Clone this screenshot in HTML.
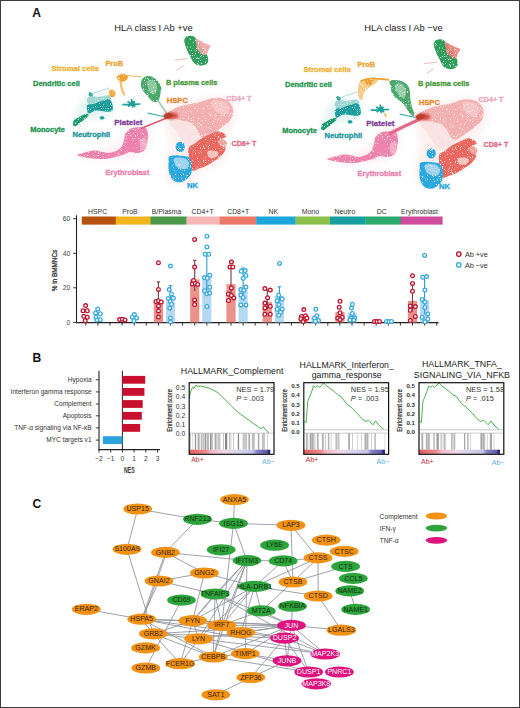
<!DOCTYPE html>
<html><head><meta charset="utf-8"><style>
html,body{margin:0;padding:0;background:#fff;}
svg{display:block;font-family:"Liberation Sans", sans-serif;}
</style></head><body>
<svg width="520" height="708" viewBox="0 0 520 708">
<rect x="0" y="0" width="520" height="708" fill="#fff"/>

<text x="32.3" y="16.9" font-size="12.1" font-weight="bold" fill="#111">A</text>
<text x="32.6" y="361.7" font-size="12.1" font-weight="bold" fill="#111">B</text>
<text x="32.4" y="507.8" font-size="12.1" font-weight="bold" fill="#111">C</text>
<defs><filter id="soft" x="-10%" y="-10%" width="120%" height="120%"><feGaussianBlur stdDeviation="0.6"/></filter>
<filter id="soft2" x="-20%" y="-20%" width="140%" height="140%"><feGaussianBlur stdDeviation="1.2"/></filter>
<filter id="halo" x="-30%" y="-30%" width="160%" height="160%"><feGaussianBlur stdDeviation="3"/></filter>
<filter id="speck" x="0" y="0" width="100%" height="100%" filterUnits="userSpaceOnUse"><feTurbulence type="fractalNoise" baseFrequency="1.4" numOctaves="1" seed="4" result="n"/>
<feColorMatrix in="n" type="matrix" values="0 0 0 0 0  0 0 0 0 0  0 0 0 0 0  0 0 0 -10 7.2" result="m"/>
<feGaussianBlur in="SourceGraphic" stdDeviation="0.6" result="b"/>
<feComposite in="b" in2="m" operator="in"/></filter></defs>
<g transform="translate(0,0)">
<g filter="url(#halo)" opacity="0.13">
<path d="M166.0,112.0 C167.8,108.5 171.2,106.0 176.0,104.0 C180.8,102.0 188.0,101.3 195.0,100.0 C202.0,98.7 211.7,95.8 218.0,96.0 C224.3,96.2 229.8,98.0 233.0,101.0 C236.2,104.0 237.2,109.5 237.0,114.0 C236.8,118.5 234.5,123.7 232.0,128.0 C229.5,132.3 222.7,136.3 222.0,140.0 C221.3,143.7 228.0,146.3 228.0,150.0 C228.0,153.7 226.7,158.3 222.0,162.0 C217.3,165.7 206.0,168.3 200.0,172.0 C194.0,175.7 191.3,182.3 186.0,184.0 C180.7,185.7 171.3,186.0 168.0,182.0 C164.7,178.0 165.7,167.0 166.0,160.0 C166.3,153.0 170.2,145.8 170.0,140.0 C169.8,134.2 165.7,129.7 165.0,125.0 C164.3,120.3 164.2,115.5 166.0,112.0Z" fill="#f08c8c"/>
<path d="M74.0,120.0 C75.0,115.0 79.7,102.3 84.0,98.0 C88.3,93.7 95.3,94.2 100.0,94.0 C104.7,93.8 109.5,94.3 112.0,97.0 C114.5,99.7 116.2,106.5 115.0,110.0 C113.8,113.5 109.5,116.3 105.0,118.0 C100.5,119.7 92.5,118.3 88.0,120.0 C83.5,121.7 80.3,128.0 78.0,128.0 C75.7,128.0 73.0,125.0 74.0,120.0Z" fill="#40b0a8"/>
<path d="M76.0,156.0 C74.3,154.3 92.3,152.7 100.0,150.0 C107.7,147.3 117.3,143.8 122.0,140.0 C126.7,136.2 123.7,129.7 128.0,127.0 C132.3,124.3 144.3,121.8 148.0,124.0 C151.7,126.2 151.3,134.8 150.0,140.0 C148.7,145.2 146.7,151.7 140.0,155.0 C133.3,158.3 120.7,159.8 110.0,160.0 C99.3,160.2 77.7,157.7 76.0,156.0Z" fill="#f090b8"/>
</g>
<g filter="url(#speck)">
<path d="M172.0,118.0 C174.0,117.0 178.7,117.5 182.0,118.0 C185.3,118.5 189.0,119.3 192.0,121.0 C195.0,122.7 197.7,125.2 200.0,128.0 C202.3,130.8 206.3,135.0 206.0,138.0 C205.7,141.0 200.8,144.5 198.0,146.0 C195.2,147.5 191.7,148.0 189.0,147.0 C186.3,146.0 184.2,142.8 182.0,140.0 C179.8,137.2 178.0,132.7 176.0,130.0 C174.0,127.3 170.7,126.0 170.0,124.0 C169.3,122.0 170.0,119.0 172.0,118.0Z" fill="#f9e2e2"/>
<path d="M167.7,114.0 C167.7,112.2 172.8,109.7 175.4,108.3 C178.0,106.9 180.2,106.2 183.1,105.4 C186.0,104.6 189.5,104.2 192.7,103.5 C195.9,102.8 199.4,102.3 202.3,101.5 C205.2,100.7 207.4,99.3 210.0,98.7 C212.6,98.1 215.1,97.6 217.7,97.7 C220.3,97.8 223.2,98.5 225.4,99.6 C227.7,100.7 229.9,102.5 231.2,104.4 C232.5,106.3 233.1,108.8 233.1,111.2 C233.1,113.6 232.5,116.6 231.2,118.8 C229.9,121.0 227.7,122.7 225.4,124.6 C223.2,126.5 219.9,128.8 217.7,130.4 C215.4,132.0 213.8,132.9 211.9,134.2 C210.0,135.5 208.1,137.8 206.2,138.1 C204.3,138.4 202.0,137.8 200.4,136.2 C198.8,134.6 198.1,130.8 196.5,128.5 C194.9,126.2 193.0,124.0 190.8,122.7 C188.6,121.4 185.7,121.5 183.1,120.8 C180.5,120.1 178.0,119.9 175.4,118.8 C172.8,117.7 167.7,115.8 167.7,114.0Z" fill="#f3b0b0"/>
<path d="M212.0,101.0 C213.0,99.2 219.2,100.0 222.0,101.0 C224.8,102.0 228.3,104.8 229.0,107.0 C229.7,109.2 228.2,113.2 226.0,114.0 C223.8,114.8 218.3,114.2 216.0,112.0 C213.7,109.8 211.0,102.8 212.0,101.0Z" fill="#f6c6c6"/>
<path d="M188.8,147.7 C189.8,145.4 192.3,145.4 194.6,143.8 C196.8,142.2 199.7,139.7 202.3,138.1 C204.9,136.5 207.4,135.3 210.0,134.2 C212.6,133.1 215.4,131.5 217.7,131.3 C219.9,131.2 222.1,132.5 223.5,133.3 C224.9,134.1 226.6,135.2 226.3,136.2 C226.0,137.1 222.9,138.1 221.5,139.0 C220.1,139.9 217.4,140.9 217.7,141.9 C218.0,142.9 222.2,143.5 223.5,144.8 C224.8,146.1 225.7,147.8 225.4,149.6 C225.1,151.4 223.4,153.5 221.5,155.4 C219.6,157.3 216.4,159.4 213.8,161.2 C211.2,163.0 208.8,164.7 206.2,166.0 C203.6,167.3 200.8,168.0 198.5,168.8 C196.2,169.6 194.1,171.1 192.7,170.8 C191.2,170.5 190.5,169.2 189.8,166.9 C189.2,164.7 189.0,160.5 188.8,157.3 C188.6,154.1 187.8,149.9 188.8,147.7Z" fill="#ea675f"/>
<path d="M207.5,151.5 C208.2,150.3 211.2,150.3 213.0,150.5 C214.8,150.7 218.0,151.4 218.5,152.5 C219.0,153.6 217.6,156.2 216.0,157.0 C214.4,157.8 210.4,158.4 209.0,157.5 C207.6,156.6 206.8,152.7 207.5,151.5Z" fill="#f6c2be"/>
<path d="M218.5,140.5 C219.1,139.5 222.1,139.1 223.5,139.5 C224.9,139.9 226.8,141.7 227.0,143.0 C227.2,144.3 225.7,147.1 224.5,147.5 C223.3,147.9 221.0,146.7 220.0,145.5 C219.0,144.3 217.9,141.5 218.5,140.5Z" fill="#f2a29c"/>
<path d="M169.6,156.3 C171.3,155.3 176.0,155.2 179.2,155.4 C182.4,155.6 186.7,155.7 188.8,157.3 C190.9,158.9 191.4,162.1 191.7,165.0 C192.0,167.9 191.9,172.0 190.8,174.6 C189.7,177.2 187.2,179.1 185.0,180.4 C182.8,181.7 179.6,182.6 177.3,182.3 C175.1,182.0 172.9,180.4 171.5,178.5 C170.1,176.6 169.2,173.7 168.7,170.8 C168.2,167.9 168.5,163.6 168.7,161.2 C168.8,158.8 167.8,157.3 169.6,156.3Z" fill="#2ba9e0"/>
<ellipse cx="180.2" cy="146.9" rx="4.6" ry="5.2" fill="#2ba9e0"/>
<path d="M174.0,158.5 C175.2,157.0 181.5,157.2 184.0,158.0 C186.5,158.8 188.7,161.2 189.0,163.0 C189.3,164.8 188.0,168.3 186.0,169.0 C184.0,169.7 179.0,168.8 177.0,167.0 C175.0,165.2 172.8,160.0 174.0,158.5Z" fill="#9fd2ee"/>
<path d="M125.8,133.1 C126.9,132.0 129.3,129.3 131.5,128.3 C133.7,127.3 136.8,127.3 139.2,127.3 C141.6,127.3 144.6,127.0 146.0,128.3 C147.4,129.6 147.8,132.4 147.9,135.0 C148.1,137.6 147.6,141.1 146.9,143.7 C146.2,146.3 145.5,148.8 144.0,150.4 C142.5,152.0 140.3,152.7 138.0,153.0 C135.7,153.3 132.3,151.8 130.0,152.0 C127.7,152.2 126.0,153.8 124.0,154.5 C122.0,155.2 121.2,155.4 118.0,156.2 C114.8,156.9 109.4,158.7 104.6,159.0 C99.8,159.3 93.7,158.6 89.2,158.0 C84.7,157.4 79.5,156.1 77.7,155.5 C76.0,154.9 76.8,154.9 78.7,154.2 C80.6,153.5 86.2,152.1 89.2,151.5 C92.2,150.9 93.7,150.3 96.9,150.6 C100.1,150.8 104.7,153.3 108.5,153.0 C112.3,152.7 117.5,150.5 120.0,148.5 C122.5,146.5 123.0,143.1 123.8,140.8 C124.6,138.6 124.5,136.3 124.8,135.0 C125.1,133.7 124.7,134.2 125.8,133.1Z" fill="#ed82ad"/>
<path d="M140.0,140.0 C140.8,138.0 145.0,136.7 146.0,138.0 C147.0,139.3 146.8,146.0 146.0,148.0 C145.2,150.0 142.0,151.3 141.0,150.0 C140.0,148.7 139.2,142.0 140.0,140.0Z" fill="#f3acc8"/>
<path d="M87.0,99.0 C87.5,97.6 90.2,96.3 92.0,96.0 C93.8,95.7 96.0,97.0 98.0,97.0 C100.0,97.0 102.2,96.2 104.0,96.0 C105.8,95.8 107.8,95.0 109.0,95.5 C110.2,96.0 111.8,98.1 111.0,99.0 C110.2,99.9 106.5,100.3 104.0,101.0 C101.5,101.7 98.5,102.4 96.0,103.0 C93.5,103.6 90.5,105.2 89.0,104.5 C87.5,103.8 86.5,100.4 87.0,99.0Z" fill="#9fd6d2"/>
<path d="M87.2,105.1 C88.2,104.0 91.4,104.5 93.0,104.1 C94.6,103.7 95.5,103.2 96.8,102.7 C98.1,102.2 99.4,101.6 100.7,101.2 C102.0,100.8 103.2,100.6 104.5,100.3 C105.8,100.0 107.3,99.1 108.4,99.3 C109.5,99.5 110.6,100.1 111.3,101.2 C112.0,102.3 112.5,104.4 112.7,106.0 C112.9,107.6 113.2,109.8 112.2,110.8 C111.2,111.8 108.6,111.8 106.5,111.8 C104.4,111.8 101.6,111.0 99.7,110.8 C97.8,110.6 96.3,110.5 94.9,110.8 C93.5,111.1 92.2,112.3 91.1,112.8 C90.0,113.3 88.8,114.0 88.2,113.7 C87.6,113.4 87.4,112.2 87.2,110.8 C87.0,109.4 86.2,106.2 87.2,105.1Z" fill="#1f9f9c"/>
<path d="M86.3,113.7 C87.3,113.7 89.0,114.2 88.7,115.2 C88.4,116.2 85.8,118.2 84.3,119.5 C82.8,120.8 80.9,122.2 79.5,123.3 C78.1,124.4 76.7,125.9 75.7,126.2 C74.7,126.5 73.6,126.2 73.3,125.3 C73.0,124.3 72.9,121.8 73.8,120.5 C74.7,119.2 77.2,118.5 78.6,117.6 C80.0,116.7 81.1,115.8 82.4,115.2 C83.7,114.6 85.2,113.7 86.3,113.7Z" fill="#1f9d70"/>
<path d="M88.2,93.0 C88.4,92.3 90.2,92.1 91.0,92.4 C91.8,92.7 93.2,94.3 93.0,95.0 C92.8,95.7 90.8,96.8 90.0,96.5 C89.2,96.2 88.0,93.7 88.2,93.0Z" fill="#2aa590"/>
<path d="M99.7,117.0 C100.0,116.5 102.2,116.0 103.0,116.3 C103.8,116.5 104.8,118.0 104.5,118.5 C104.2,119.0 101.8,119.8 101.0,119.5 C100.2,119.2 99.4,117.5 99.7,117.0Z" fill="#1f9f9c"/>
<path d="M143.6,77.5 C145.2,76.4 148.2,75.8 150.4,76.2 C152.7,76.7 155.3,78.4 157.1,80.2 C158.9,82.0 160.5,84.8 161.1,86.9 C161.7,89.0 160.9,90.8 160.5,93.0 C160.1,95.2 159.7,99.0 158.5,100.4 C157.3,101.9 154.7,102.2 153.1,101.7 C151.5,101.2 150.8,99.7 149.0,97.7 C147.2,95.7 143.6,92.1 142.3,89.6 C141.0,87.1 140.8,84.9 141.0,82.9 C141.2,80.9 142.0,78.6 143.6,77.5Z" fill="#4aa868"/>
<path d="M147.0,82.0 C147.5,80.0 151.3,79.3 153.0,80.0 C154.7,80.7 156.7,83.7 157.0,86.0 C157.3,88.3 156.2,93.0 155.0,94.0 C153.8,95.0 151.3,94.0 150.0,92.0 C148.7,90.0 146.5,84.0 147.0,82.0Z" fill="#8ccaa0"/>
<path d="M116.5,77.0 C116.8,76.0 119.0,74.7 120.5,74.3 C122.0,73.9 124.2,74.0 125.5,74.4 C126.8,74.8 128.1,75.8 128.2,76.8 C128.3,77.8 127.0,79.7 126.0,80.5 C125.0,81.3 123.2,81.8 122.0,81.8 C120.8,81.8 119.4,81.3 118.5,80.5 C117.6,79.7 116.2,78.0 116.5,77.0Z" fill="#f0a236"/>
<path d="M109.2,91.0 C109.7,89.8 111.9,89.2 113.0,89.5 C114.1,89.8 115.4,91.8 115.6,93.0 C115.8,94.2 114.9,96.4 114.0,97.0 C113.1,97.6 110.8,97.5 110.0,96.5 C109.2,95.5 108.7,92.2 109.2,91.0Z" fill="#f2ad48"/>
<path d="M186.0,37.0 C186.9,36.3 188.7,35.9 190.0,35.8 C191.3,35.7 192.8,35.8 194.0,36.5 C195.2,37.2 196.0,38.6 197.0,40.0 C198.0,41.4 198.8,43.3 200.0,45.0 C201.2,46.7 202.8,48.2 204.0,50.0 C205.2,51.8 206.8,54.0 207.5,56.0 C208.2,58.0 208.6,60.5 208.0,62.0 C207.4,63.5 205.7,64.8 204.0,65.3 C202.3,65.8 199.8,65.8 198.0,65.3 C196.2,64.8 194.8,63.9 193.5,62.5 C192.2,61.1 191.6,59.1 190.5,57.0 C189.4,54.9 187.9,52.2 187.0,50.0 C186.1,47.8 185.2,45.7 184.8,44.0 C184.4,42.3 184.1,41.2 184.3,40.0 C184.5,38.8 185.1,37.7 186.0,37.0Z" fill="#2f9f5a"/>
<path d="M195.3,38.2 C196.0,37.8 198.4,39.7 200.4,40.7 C202.4,41.7 205.4,43.2 207.1,44.1 C208.8,45.0 210.2,44.9 210.5,45.8 C210.8,46.6 209.4,47.9 208.8,49.2 C208.2,50.5 207.9,52.4 207.1,53.4 C206.3,54.4 204.9,55.2 203.8,55.1 C202.7,55.0 201.5,53.5 200.4,52.5 C199.3,51.5 197.7,50.8 197.0,49.2 C196.3,47.7 196.5,45.0 196.2,43.2 C195.9,41.4 194.6,38.6 195.3,38.2Z" fill="#f2a4a4" opacity="0.9"/>
</g>
<g filter="url(#soft)">
<path d="M141,128.5 L168.5,117.2" stroke="#dc5a74" stroke-width="1.6" fill="none"/>
<path d="M90,94.5 L109.3,87.8" stroke="#8fcfcc" stroke-width="0.7" fill="none"/>
<g transform="translate(0,0)"><path d="M122.3,104.6 L140.5,104 M131.5,99 L132.8,107.6 M127.5,101.5 L135.5,106.5 M128,106.5 L135,101.5" stroke="#1b9e9b" stroke-width="1.6" fill="none"/><ellipse cx="132.5" cy="103.6" rx="2.2" ry="2.8" fill="#1b9e9b"/></g>
<path d="M147.7,113.2 L163.8,116.5" stroke="#3aaeb0" stroke-width="1.2" fill="none"/>
<path d="M157.5,100 L167,114" stroke="#9ccfb0" stroke-width="1.6" fill="none"/>
<path d="M127.5,75.5 L141.5,77" stroke="#f2b35a" stroke-width="1.2" fill="none"/>
<path d="M120.5,81 Q121,89 124.6,95.4" stroke="#f4bd6a" stroke-width="2.2" fill="none"/>
<path d="M175,60.1 L187.7,58.5 M176.7,70.3 L184.3,65.2" stroke="#e89a9a" stroke-width="0.7" fill="none"/>
</g>
<g filter="url(#soft2)"><ellipse cx="171" cy="115.8" rx="7.5" ry="3.6" fill="#d4504a"/></g>
<g filter="url(#soft)"><path d="M163.5,115.5 L168.5,112.5 L174,115 L170,118.5 L165,118.8 Z" fill="#b8402a"/></g>
</g>
<g transform="translate(252,1)">
<g filter="url(#halo)" opacity="0.13">
<path d="M164.5,112.5 C166.3,109.0 169.7,106.5 174.5,104.5 C179.3,102.5 186.5,101.8 193.5,100.5 C200.5,99.2 210.2,96.3 216.5,96.5 C222.8,96.7 228.3,98.5 231.5,101.5 C234.7,104.5 235.7,110.0 235.5,114.5 C235.3,119.0 233.0,124.2 230.5,128.5 C228.0,132.8 221.2,136.8 220.5,140.5 C219.8,144.2 226.5,146.8 226.5,150.5 C226.5,154.2 225.2,158.8 220.5,162.5 C215.8,166.2 204.5,168.8 198.5,172.5 C192.5,176.2 189.8,182.8 184.5,184.5 C179.2,186.2 169.8,186.5 166.5,182.5 C163.2,178.5 164.2,167.5 164.5,160.5 C164.8,153.5 168.7,146.3 168.5,140.5 C168.3,134.7 164.2,130.2 163.5,125.5 C162.8,120.8 162.7,116.0 164.5,112.5Z" fill="#f08c8c"/>
<path d="M70.0,123.0 C71.0,118.0 75.7,105.3 80.0,101.0 C84.3,96.7 91.3,97.2 96.0,97.0 C100.7,96.8 105.5,97.3 108.0,100.0 C110.5,102.7 112.2,109.5 111.0,113.0 C109.8,116.5 105.5,119.3 101.0,121.0 C96.5,122.7 88.5,121.3 84.0,123.0 C79.5,124.7 76.3,131.0 74.0,131.0 C71.7,131.0 69.0,128.0 70.0,123.0Z" fill="#40b0a8"/>
<path d="M74.0,159.0 C72.3,157.3 90.3,155.7 98.0,153.0 C105.7,150.3 115.3,146.8 120.0,143.0 C124.7,139.2 121.7,132.7 126.0,130.0 C130.3,127.3 142.3,124.8 146.0,127.0 C149.7,129.2 149.3,137.8 148.0,143.0 C146.7,148.2 144.7,154.7 138.0,158.0 C131.3,161.3 118.7,162.8 108.0,163.0 C97.3,163.2 75.7,160.7 74.0,159.0Z" fill="#f090b8"/>
</g>
<g filter="url(#speck)">
<path d="M170.5,118.5 C172.5,117.5 177.2,118.0 180.5,118.5 C183.8,119.0 187.5,119.8 190.5,121.5 C193.5,123.2 196.2,125.7 198.5,128.5 C200.8,131.3 204.8,135.5 204.5,138.5 C204.2,141.5 199.3,145.0 196.5,146.5 C193.7,148.0 190.2,148.5 187.5,147.5 C184.8,146.5 182.7,143.3 180.5,140.5 C178.3,137.7 176.5,133.2 174.5,130.5 C172.5,127.8 169.2,126.5 168.5,124.5 C167.8,122.5 168.5,119.5 170.5,118.5Z" fill="#f9e2e2"/>
<path d="M166.2,114.5 C166.2,112.8 171.3,110.2 173.9,108.8 C176.5,107.4 178.7,106.7 181.6,105.9 C184.5,105.1 188.0,104.7 191.2,104.0 C194.4,103.3 197.9,102.8 200.8,102.0 C203.7,101.2 205.9,99.8 208.5,99.2 C211.1,98.6 213.6,98.1 216.2,98.2 C218.8,98.3 221.7,99.0 223.9,100.1 C226.2,101.2 228.4,103.0 229.7,104.9 C231.0,106.8 231.6,109.3 231.6,111.7 C231.6,114.1 231.0,117.1 229.7,119.3 C228.4,121.5 226.2,123.2 223.9,125.1 C221.7,127.0 218.4,129.3 216.2,130.9 C213.9,132.5 212.3,133.4 210.4,134.7 C208.5,136.0 206.6,138.3 204.7,138.6 C202.8,138.9 200.5,138.3 198.9,136.7 C197.3,135.1 196.6,131.2 195.0,129.0 C193.4,126.8 191.5,124.5 189.3,123.2 C187.1,121.9 184.2,122.0 181.6,121.3 C179.0,120.6 176.5,120.4 173.9,119.3 C171.3,118.2 166.2,116.2 166.2,114.5Z" fill="#f3b0b0"/>
<path d="M210.5,101.5 C211.5,99.7 217.7,100.5 220.5,101.5 C223.3,102.5 226.8,105.3 227.5,107.5 C228.2,109.7 226.7,113.7 224.5,114.5 C222.3,115.3 216.8,114.7 214.5,112.5 C212.2,110.3 209.5,103.3 210.5,101.5Z" fill="#f6c6c6"/>
<path d="M187.3,153.7 C188.3,151.4 190.8,151.4 193.1,149.8 C195.3,148.2 198.2,145.7 200.8,144.1 C203.4,142.5 205.9,141.3 208.5,140.2 C211.1,139.1 213.9,137.5 216.2,137.3 C218.4,137.2 220.6,138.5 222.0,139.3 C223.4,140.1 225.1,141.2 224.8,142.2 C224.5,143.1 221.4,144.1 220.0,145.0 C218.6,145.9 215.9,146.9 216.2,147.9 C216.5,148.9 220.7,149.5 222.0,150.8 C223.3,152.1 224.2,153.8 223.9,155.6 C223.6,157.4 221.9,159.5 220.0,161.4 C218.1,163.3 214.9,165.4 212.3,167.2 C209.8,169.0 207.2,170.7 204.7,172.0 C202.1,173.3 199.2,174.0 197.0,174.8 C194.8,175.6 192.6,177.1 191.2,176.8 C189.8,176.5 189.0,175.2 188.3,172.9 C187.7,170.7 187.5,166.5 187.3,163.3 C187.1,160.1 186.3,155.9 187.3,153.7Z" fill="#ea675f"/>
<path d="M206.0,157.5 C206.7,156.3 209.7,156.3 211.5,156.5 C213.3,156.7 216.5,157.4 217.0,158.5 C217.5,159.6 216.1,162.2 214.5,163.0 C212.9,163.8 208.9,164.4 207.5,163.5 C206.1,162.6 205.3,158.7 206.0,157.5Z" fill="#f6c2be"/>
<path d="M217.0,146.5 C217.6,145.5 220.6,145.1 222.0,145.5 C223.4,145.9 225.3,147.7 225.5,149.0 C225.7,150.3 224.2,153.1 223.0,153.5 C221.8,153.9 219.5,152.7 218.5,151.5 C217.5,150.3 216.4,147.5 217.0,146.5Z" fill="#f2a29c"/>
<path d="M168.6,161.8 C170.3,160.8 175.0,160.7 178.2,160.9 C181.4,161.1 185.7,161.2 187.8,162.8 C189.9,164.4 190.4,167.6 190.7,170.5 C191.0,173.4 190.9,177.5 189.8,180.1 C188.7,182.7 186.2,184.6 184.0,185.9 C181.8,187.2 178.6,188.1 176.3,187.8 C174.1,187.5 171.9,185.9 170.5,184.0 C169.1,182.1 168.2,179.2 167.7,176.3 C167.2,173.4 167.5,169.1 167.7,166.7 C167.8,164.3 166.8,162.8 168.6,161.8Z" fill="#2ba9e0"/>
<ellipse cx="179.2" cy="152.4" rx="4.6" ry="5.2" fill="#2ba9e0"/>
<path d="M173.0,164.0 C174.2,162.5 180.5,162.8 183.0,163.5 C185.5,164.2 187.7,166.7 188.0,168.5 C188.3,170.3 187.0,173.8 185.0,174.5 C183.0,175.2 178.0,174.2 176.0,172.5 C174.0,170.8 171.8,165.5 173.0,164.0Z" fill="#9fd2ee"/>
<path d="M123.8,136.1 C124.9,135.0 127.3,132.3 129.5,131.3 C131.7,130.3 134.8,130.3 137.2,130.3 C139.6,130.3 142.6,130.0 144.0,131.3 C145.4,132.6 145.8,135.4 145.9,138.0 C146.1,140.6 145.6,144.1 144.9,146.7 C144.2,149.3 143.5,151.8 142.0,153.4 C140.5,155.0 138.3,155.7 136.0,156.0 C133.7,156.3 130.3,154.8 128.0,155.0 C125.7,155.2 124.0,156.8 122.0,157.5 C120.0,158.2 119.2,158.4 116.0,159.2 C112.8,159.9 107.4,161.7 102.6,162.0 C97.8,162.3 91.7,161.6 87.2,161.0 C82.7,160.4 77.5,159.1 75.7,158.5 C74.0,157.9 74.8,157.9 76.7,157.2 C78.6,156.5 84.2,155.1 87.2,154.5 C90.2,153.9 91.7,153.3 94.9,153.6 C98.1,153.8 102.7,156.3 106.5,156.0 C110.3,155.7 115.5,153.5 118.0,151.5 C120.5,149.5 121.0,146.1 121.8,143.8 C122.6,141.6 122.5,139.3 122.8,138.0 C123.1,136.7 122.7,137.2 123.8,136.1Z" fill="#ed82ad"/>
<path d="M138.0,143.0 C138.8,141.0 143.0,139.7 144.0,141.0 C145.0,142.3 144.8,149.0 144.0,151.0 C143.2,153.0 140.0,154.3 139.0,153.0 C138.0,151.7 137.2,145.0 138.0,143.0Z" fill="#f3acc8"/>
<path d="M83.0,102.0 C83.5,100.6 86.2,99.3 88.0,99.0 C89.8,98.7 92.0,100.0 94.0,100.0 C96.0,100.0 98.2,99.2 100.0,99.0 C101.8,98.8 103.8,98.0 105.0,98.5 C106.2,99.0 107.8,101.1 107.0,102.0 C106.2,102.9 102.5,103.3 100.0,104.0 C97.5,104.7 94.5,105.4 92.0,106.0 C89.5,106.6 86.5,108.2 85.0,107.5 C83.5,106.8 82.5,103.4 83.0,102.0Z" fill="#9fd6d2"/>
<path d="M83.2,108.1 C84.2,107.0 87.4,107.5 89.0,107.1 C90.6,106.7 91.5,106.2 92.8,105.7 C94.1,105.2 95.4,104.6 96.7,104.2 C98.0,103.8 99.2,103.6 100.5,103.3 C101.8,103.0 103.3,102.1 104.4,102.3 C105.5,102.5 106.6,103.1 107.3,104.2 C108.0,105.3 108.5,107.4 108.7,109.0 C108.9,110.6 109.2,112.8 108.2,113.8 C107.2,114.8 104.6,114.8 102.5,114.8 C100.4,114.8 97.6,114.0 95.7,113.8 C93.8,113.6 92.3,113.5 90.9,113.8 C89.5,114.1 88.2,115.3 87.1,115.8 C86.0,116.3 84.8,117.0 84.2,116.7 C83.6,116.4 83.4,115.2 83.2,113.8 C83.0,112.4 82.2,109.2 83.2,108.1Z" fill="#1f9f9c"/>
<path d="M82.3,116.7 C83.3,116.7 85.0,117.2 84.7,118.2 C84.4,119.2 81.8,121.2 80.3,122.5 C78.8,123.8 76.9,125.2 75.5,126.3 C74.1,127.4 72.7,128.9 71.7,129.2 C70.7,129.5 69.6,129.2 69.3,128.3 C69.0,127.4 68.9,124.8 69.8,123.5 C70.7,122.2 73.2,121.5 74.6,120.6 C76.0,119.7 77.1,118.8 78.4,118.2 C79.7,117.6 81.2,116.7 82.3,116.7Z" fill="#1f9d70"/>
<path d="M84.2,96.0 C84.4,95.3 86.2,95.1 87.0,95.4 C87.8,95.7 89.2,97.3 89.0,98.0 C88.8,98.7 86.8,99.8 86.0,99.5 C85.2,99.2 84.0,96.7 84.2,96.0Z" fill="#2aa590"/>
<path d="M95.7,120.0 C96.0,119.5 98.2,119.0 99.0,119.3 C99.8,119.5 100.8,121.0 100.5,121.5 C100.2,122.0 97.8,122.8 97.0,122.5 C96.2,122.2 95.4,120.5 95.7,120.0Z" fill="#1f9f9c"/>
<path d="M138.0,79.5 C139.4,78.5 144.7,79.0 147.4,79.5 C150.1,80.0 152.4,81.3 154.1,82.8 C155.8,84.2 156.8,86.0 157.5,88.2 C158.2,90.5 157.9,93.6 158.2,96.3 C158.5,99.0 158.8,101.7 159.5,104.4 C160.2,107.1 162.0,110.7 162.2,112.5 C162.4,114.3 161.8,115.3 160.9,115.1 C160.0,114.9 158.4,113.1 156.8,111.1 C155.2,109.1 153.5,105.2 151.5,103.0 C149.5,100.8 146.6,99.4 144.7,97.6 C142.8,95.8 141.0,94.3 140.0,92.3 C139.0,90.3 139.0,87.6 138.7,85.5 C138.4,83.4 136.6,80.5 138.0,79.5Z" fill="#4aa86a"/>
<path d="M143.0,84.0 C143.7,82.3 148.2,82.0 150.0,83.0 C151.8,84.0 153.7,87.7 154.0,90.0 C154.3,92.3 153.3,96.5 152.0,97.0 C150.7,97.5 147.5,95.2 146.0,93.0 C144.5,90.8 142.3,85.7 143.0,84.0Z" fill="#94cea8"/>
<path d="M108.4,80.2 C110.1,78.5 113.1,78.0 116.0,77.5 C118.9,77.0 124.7,76.8 126.0,77.5 C127.3,78.2 125.3,80.6 124.0,82.0 C122.7,83.4 120.0,84.3 118.0,86.0 C116.0,87.7 113.3,89.8 112.0,92.0 C110.7,94.2 110.9,98.3 110.0,99.0 C109.1,99.7 107.2,97.8 106.5,96.0 C105.8,94.2 105.7,90.6 106.0,88.0 C106.3,85.4 106.7,82.0 108.4,80.2Z" fill="#f6cc8a"/>
<path d="M113.0,79.0 C114.0,78.2 120.0,78.2 121.0,79.0 C122.0,79.8 120.0,83.2 119.0,84.0 C118.0,84.8 116.0,84.8 115.0,84.0 C114.0,83.2 112.0,79.8 113.0,79.0Z" fill="#f0a236"/>
<path d="M183.5,39.5 C184.4,38.8 186.2,38.4 187.5,38.3 C188.8,38.2 190.3,38.3 191.5,39.0 C192.7,39.7 193.5,41.1 194.5,42.5 C195.5,43.9 196.3,45.8 197.5,47.5 C198.7,49.2 200.2,50.7 201.5,52.5 C202.8,54.3 204.3,56.5 205.0,58.5 C205.7,60.5 206.1,63.0 205.5,64.5 C204.9,66.0 203.2,67.2 201.5,67.8 C199.8,68.3 197.2,68.3 195.5,67.8 C193.8,67.3 192.2,66.4 191.0,65.0 C189.8,63.6 189.1,61.6 188.0,59.5 C186.9,57.4 185.4,54.7 184.5,52.5 C183.6,50.3 182.8,48.2 182.3,46.5 C181.9,44.8 181.6,43.7 181.8,42.5 C182.0,41.3 182.6,40.2 183.5,39.5Z" fill="#2f9f5a"/>
<path d="M192.8,40.7 C193.5,40.3 195.9,42.2 197.9,43.2 C199.9,44.2 202.9,45.8 204.6,46.6 C206.3,47.5 207.7,47.4 208.0,48.3 C208.3,49.1 206.9,50.4 206.3,51.7 C205.7,53.0 205.4,54.9 204.6,55.9 C203.8,56.9 202.4,57.8 201.3,57.6 C200.2,57.5 199.0,56.0 197.9,55.0 C196.8,54.0 195.2,53.2 194.5,51.7 C193.8,50.2 194.0,47.5 193.7,45.7 C193.4,43.9 192.1,41.1 192.8,40.7Z" fill="#ee7a74" opacity="0.9"/>
</g>
<g filter="url(#soft)">
<path d="M137,133 Q150,126 168.5,118" stroke="#e46a8a" stroke-width="3.2" fill="none"/>
<path d="M86,97.5 L105.3,90.8" stroke="#8fcfcc" stroke-width="0.7" fill="none"/>
<g transform="translate(-3.4,4.5)"><path d="M122.3,104.6 L140.5,104 M131.5,99 L132.8,107.6 M127.5,101.5 L135.5,106.5 M128,106.5 L135,101.5" stroke="#1b9e9b" stroke-width="1.6" fill="none"/><ellipse cx="132.5" cy="103.6" rx="2.2" ry="2.8" fill="#1b9e9b"/></g>
<path d="M132.4,112 L134,116" stroke="#f0b040" stroke-width="1.3" fill="none"/>
<path d="M147.7,113.2 L163.8,116.5" stroke="#3aaeb0" stroke-width="1.2" fill="none"/>
<path d="M108.4,80.2 Q116,76.5 124,77.5 L137,78.8" stroke="#f0a236" stroke-width="1.8" fill="none"/>
<path d="M172.5,62.6 L185.2,61.0 M174.2,72.8 L181.8,67.7" stroke="#e89a9a" stroke-width="0.7" fill="none"/>
</g>
<g filter="url(#soft2)"><ellipse cx="171" cy="115.8" rx="7.5" ry="3.6" fill="#d4504a"/></g>
<g filter="url(#soft)"><path d="M163.5,115.5 L168.5,112.5 L174,115 L170,118.5 L165,118.8 Z" fill="#b8402a"/></g>
</g>
<g transform="translate(0,0)">
<text x="51.5" y="71.3" font-size="7.6" font-weight="bold" fill="#f0b230" stroke="#f0b230" stroke-width="0.3" textLength="47.5" lengthAdjust="spacingAndGlyphs">Stromal cells</text>
<text x="105.4" y="65.6" font-size="7.6" font-weight="bold" fill="#eca02a" stroke="#eca02a" stroke-width="0.3" textLength="17.6" lengthAdjust="spacingAndGlyphs">ProB</text>
<text x="33" y="86.2" font-size="7.6" font-weight="bold" fill="#24944a" stroke="#24944a" stroke-width="0.3" textLength="46.8" lengthAdjust="spacingAndGlyphs">Dendritic cell</text>
<text x="165.9" y="84.8" font-size="7.6" font-weight="bold" fill="#4c9a3c" stroke="#4c9a3c" stroke-width="0.3" textLength="51.6" lengthAdjust="spacingAndGlyphs">B plasma cells</text>
<text x="166.8" y="103.4" font-size="7.6" font-weight="bold" fill="#e8862a" stroke="#e8862a" stroke-width="0.3" textLength="21.1" lengthAdjust="spacingAndGlyphs">HSPC</text>
<text x="226.6" y="101.3" font-size="7.6" font-weight="bold" fill="#f0a4bc" stroke="#f0a4bc" stroke-width="0.3" textLength="24.8" lengthAdjust="spacingAndGlyphs">CD4+ T</text>
<text x="30.2" y="131.6" font-size="7.6" font-weight="bold" fill="#18914f" stroke="#18914f" stroke-width="0.3" textLength="34.8" lengthAdjust="spacingAndGlyphs">Monocyte</text>
<text x="72.5" y="136.8" font-size="7.6" font-weight="bold" fill="#18959a" stroke="#18959a" stroke-width="0.3" textLength="37.7" lengthAdjust="spacingAndGlyphs">Neutrophil</text>
<text x="114.2" y="124.8" font-size="7.6" font-weight="bold" fill="#7c3c98" stroke="#7c3c98" stroke-width="0.3" textLength="28.3" lengthAdjust="spacingAndGlyphs">Platelet</text>
<text x="231.5" y="146.2" font-size="7.6" font-weight="bold" fill="#e06a84" stroke="#e06a84" stroke-width="0.3" textLength="24.8" lengthAdjust="spacingAndGlyphs">CD8+ T</text>
<text x="105.6" y="175.2" font-size="7.6" font-weight="bold" fill="#ea7eac" stroke="#ea7eac" stroke-width="0.3" textLength="43.6" lengthAdjust="spacingAndGlyphs">Erythroblast</text>
<text x="187.1" y="187.8" font-size="7.6" font-weight="bold" fill="#1ea2dc" stroke="#1ea2dc" stroke-width="0.3" textLength="11" lengthAdjust="spacingAndGlyphs">NK</text>
</g>
<g transform="translate(252,1.2)">
<text x="51.5" y="71.3" font-size="7.6" font-weight="bold" fill="#f0b230" stroke="#f0b230" stroke-width="0.3" textLength="47.5" lengthAdjust="spacingAndGlyphs">Stromal cells</text>
<text x="105.4" y="65.6" font-size="7.6" font-weight="bold" fill="#eca02a" stroke="#eca02a" stroke-width="0.3" textLength="17.6" lengthAdjust="spacingAndGlyphs">ProB</text>
<text x="33" y="86.2" font-size="7.6" font-weight="bold" fill="#24944a" stroke="#24944a" stroke-width="0.3" textLength="46.8" lengthAdjust="spacingAndGlyphs">Dendritic cell</text>
<text x="165.9" y="84.8" font-size="7.6" font-weight="bold" fill="#4c9a3c" stroke="#4c9a3c" stroke-width="0.3" textLength="51.6" lengthAdjust="spacingAndGlyphs">B plasma cells</text>
<text x="166.8" y="103.4" font-size="7.6" font-weight="bold" fill="#e8862a" stroke="#e8862a" stroke-width="0.3" textLength="21.1" lengthAdjust="spacingAndGlyphs">HSPC</text>
<text x="226.6" y="101.3" font-size="7.6" font-weight="bold" fill="#f0a4bc" stroke="#f0a4bc" stroke-width="0.3" textLength="24.8" lengthAdjust="spacingAndGlyphs">CD4+ T</text>
<text x="30.2" y="131.6" font-size="7.6" font-weight="bold" fill="#18914f" stroke="#18914f" stroke-width="0.3" textLength="34.8" lengthAdjust="spacingAndGlyphs">Monocyte</text>
<text x="72.5" y="136.8" font-size="7.6" font-weight="bold" fill="#18959a" stroke="#18959a" stroke-width="0.3" textLength="37.7" lengthAdjust="spacingAndGlyphs">Neutrophil</text>
<text x="114.2" y="124.8" font-size="7.6" font-weight="bold" fill="#7c3c98" stroke="#7c3c98" stroke-width="0.3" textLength="28.3" lengthAdjust="spacingAndGlyphs">Platelet</text>
<text x="231.5" y="146.2" font-size="7.6" font-weight="bold" fill="#e06a84" stroke="#e06a84" stroke-width="0.3" textLength="24.8" lengthAdjust="spacingAndGlyphs">CD8+ T</text>
<text x="105.6" y="175.2" font-size="7.6" font-weight="bold" fill="#ea7eac" stroke="#ea7eac" stroke-width="0.3" textLength="43.6" lengthAdjust="spacingAndGlyphs">Erythroblast</text>
<text x="187.1" y="187.8" font-size="7.6" font-weight="bold" fill="#1ea2dc" stroke="#1ea2dc" stroke-width="0.3" textLength="11" lengthAdjust="spacingAndGlyphs">NK</text>
</g>
<text x="153.4" y="31.4" font-size="9.4" fill="#222" text-anchor="middle">HLA class I Ab +ve</text>
<text x="403.4" y="31.1" font-size="9.4" fill="#222" text-anchor="middle">HLA class I Ab &#8722;ve</text>
<rect x="81.8" y="216.5" width="34.3" height="8.1" fill="#b5520f"/>
<text x="97.6" y="214.2" font-size="6.9" fill="#333" text-anchor="middle">HSPC</text>
<rect x="115.8" y="216.5" width="34.9" height="8.1" fill="#f4b41c"/>
<text x="129.9" y="214.2" font-size="6.9" fill="#333" text-anchor="middle">ProB</text>
<rect x="150.4" y="216.5" width="36.4" height="8.1" fill="#4b9a4a"/>
<text x="166.5" y="214.2" font-size="6.9" fill="#333" text-anchor="middle">B/Plasma</text>
<rect x="186.5" y="216.5" width="33.5" height="8.1" fill="#f7b6b8"/>
<text x="202.6" y="214.2" font-size="6.9" fill="#333" text-anchor="middle">CD4+T</text>
<rect x="219.7" y="216.5" width="36.8" height="8.1" fill="#ec7868"/>
<text x="238.2" y="214.2" font-size="6.9" fill="#333" text-anchor="middle">CD8+T</text>
<rect x="256.2" y="216.5" width="39.6" height="8.1" fill="#1da6da"/>
<text x="273.4" y="214.2" font-size="6.9" fill="#333" text-anchor="middle">NK</text>
<rect x="295.5" y="216.5" width="34.8" height="8.1" fill="#8bc04d"/>
<text x="310.4" y="214.2" font-size="6.9" fill="#333" text-anchor="middle">Mono</text>
<rect x="330" y="216.5" width="35.7" height="8.1" fill="#17a09f"/>
<text x="344.9" y="214.2" font-size="6.9" fill="#333" text-anchor="middle">Neutro</text>
<rect x="365.4" y="216.5" width="35.7" height="8.1" fill="#2aa86e"/>
<text x="381.8" y="214.2" font-size="6.9" fill="#333" text-anchor="middle">DC</text>
<rect x="400.8" y="216.5" width="41.8" height="8.1" fill="#cf4b9b"/>
<text x="419.5" y="214.2" font-size="6.9" fill="#333" text-anchor="middle">Erythroblast</text>
<line x1="76.5" y1="215.3" x2="76.5" y2="322.9" stroke="#222" stroke-width="1.1"/>
<line x1="76" y1="322.6" x2="438.6" y2="322.6" stroke="#222" stroke-width="1.1"/>
<line x1="73.2" y1="322.4" x2="76.5" y2="322.4" stroke="#222" stroke-width="0.9"/>
<text x="70.2" y="324.8" font-size="6.7" fill="#444" text-anchor="end">0</text>
<line x1="73.2" y1="287.8" x2="76.5" y2="287.8" stroke="#222" stroke-width="0.9"/>
<text x="70.2" y="290.2" font-size="6.7" fill="#444" text-anchor="end">20</text>
<line x1="73.2" y1="253.3" x2="76.5" y2="253.3" stroke="#222" stroke-width="0.9"/>
<text x="70.2" y="255.7" font-size="6.7" fill="#444" text-anchor="end">40</text>
<line x1="73.2" y1="218.7" x2="76.5" y2="218.7" stroke="#222" stroke-width="0.9"/>
<text x="70.2" y="221.1" font-size="6.7" fill="#444" text-anchor="end">60</text>
<text transform="translate(56.6,291.3) rotate(-90)" font-size="7.4" fill="#333" stroke="#333" stroke-width="0.3" textLength="41.6" lengthAdjust="spacingAndGlyphs">% in BMMNCs</text>
<line x1="85.8" y1="322.6" x2="85.8" y2="325.6" stroke="#222" stroke-width="0.9"/>
<line x1="97.9" y1="322.6" x2="97.9" y2="325.6" stroke="#222" stroke-width="0.9"/>
<line x1="110.0" y1="322.6" x2="110.0" y2="325.6" stroke="#222" stroke-width="0.9"/>
<line x1="122.1" y1="322.6" x2="122.1" y2="325.6" stroke="#222" stroke-width="0.9"/>
<line x1="134.2" y1="322.6" x2="134.2" y2="325.6" stroke="#222" stroke-width="0.9"/>
<line x1="146.3" y1="322.6" x2="146.3" y2="325.6" stroke="#222" stroke-width="0.9"/>
<line x1="158.4" y1="322.6" x2="158.4" y2="325.6" stroke="#222" stroke-width="0.9"/>
<line x1="170.5" y1="322.6" x2="170.5" y2="325.6" stroke="#222" stroke-width="0.9"/>
<line x1="182.6" y1="322.6" x2="182.6" y2="325.6" stroke="#222" stroke-width="0.9"/>
<line x1="194.7" y1="322.6" x2="194.7" y2="325.6" stroke="#222" stroke-width="0.9"/>
<line x1="206.8" y1="322.6" x2="206.8" y2="325.6" stroke="#222" stroke-width="0.9"/>
<line x1="218.9" y1="322.6" x2="218.9" y2="325.6" stroke="#222" stroke-width="0.9"/>
<line x1="231.0" y1="322.6" x2="231.0" y2="325.6" stroke="#222" stroke-width="0.9"/>
<line x1="243.1" y1="322.6" x2="243.1" y2="325.6" stroke="#222" stroke-width="0.9"/>
<line x1="255.2" y1="322.6" x2="255.2" y2="325.6" stroke="#222" stroke-width="0.9"/>
<line x1="267.3" y1="322.6" x2="267.3" y2="325.6" stroke="#222" stroke-width="0.9"/>
<line x1="279.4" y1="322.6" x2="279.4" y2="325.6" stroke="#222" stroke-width="0.9"/>
<line x1="291.5" y1="322.6" x2="291.5" y2="325.6" stroke="#222" stroke-width="0.9"/>
<line x1="303.6" y1="322.6" x2="303.6" y2="325.6" stroke="#222" stroke-width="0.9"/>
<line x1="315.7" y1="322.6" x2="315.7" y2="325.6" stroke="#222" stroke-width="0.9"/>
<line x1="327.8" y1="322.6" x2="327.8" y2="325.6" stroke="#222" stroke-width="0.9"/>
<line x1="339.9" y1="322.6" x2="339.9" y2="325.6" stroke="#222" stroke-width="0.9"/>
<line x1="352.0" y1="322.6" x2="352.0" y2="325.6" stroke="#222" stroke-width="0.9"/>
<line x1="364.1" y1="322.6" x2="364.1" y2="325.6" stroke="#222" stroke-width="0.9"/>
<line x1="376.2" y1="322.6" x2="376.2" y2="325.6" stroke="#222" stroke-width="0.9"/>
<line x1="388.3" y1="322.6" x2="388.3" y2="325.6" stroke="#222" stroke-width="0.9"/>
<line x1="400.4" y1="322.6" x2="400.4" y2="325.6" stroke="#222" stroke-width="0.9"/>
<line x1="412.5" y1="322.6" x2="412.5" y2="325.6" stroke="#222" stroke-width="0.9"/>
<line x1="424.6" y1="322.6" x2="424.6" y2="325.6" stroke="#222" stroke-width="0.9"/>
<line x1="436.7" y1="322.6" x2="436.7" y2="325.6" stroke="#222" stroke-width="0.9"/>
<circle cx="85.6" cy="305.6" r="1.85" fill="#fff" stroke="#c2132f" stroke-width="1.3"/>
<circle cx="83" cy="310.8" r="1.85" fill="#fff" stroke="#c2132f" stroke-width="1.3"/>
<circle cx="87.3" cy="310.8" r="1.85" fill="#fff" stroke="#c2132f" stroke-width="1.3"/>
<circle cx="83.8" cy="316.3" r="1.85" fill="#fff" stroke="#c2132f" stroke-width="1.3"/>
<circle cx="87.3" cy="317.2" r="1.85" fill="#fff" stroke="#c2132f" stroke-width="1.3"/>
<circle cx="85.2" cy="320.7" r="1.85" fill="#fff" stroke="#c2132f" stroke-width="1.3"/>
<circle cx="97.7" cy="309" r="1.85" fill="#fff" stroke="#3aa9dd" stroke-width="1.3"/>
<circle cx="95.6" cy="312.9" r="1.85" fill="#fff" stroke="#3aa9dd" stroke-width="1.3"/>
<circle cx="100.3" cy="313.7" r="1.85" fill="#fff" stroke="#3aa9dd" stroke-width="1.3"/>
<circle cx="96" cy="317.2" r="1.85" fill="#fff" stroke="#3aa9dd" stroke-width="1.3"/>
<circle cx="100.3" cy="319.8" r="1.85" fill="#fff" stroke="#3aa9dd" stroke-width="1.3"/>
<circle cx="96.8" cy="320.1" r="1.85" fill="#fff" stroke="#3aa9dd" stroke-width="1.3"/>
<circle cx="119.6" cy="319.6" r="1.85" fill="#fff" stroke="#c2132f" stroke-width="1.3"/>
<circle cx="122.4" cy="319.2" r="1.85" fill="#fff" stroke="#c2132f" stroke-width="1.3"/>
<circle cx="125" cy="320" r="1.85" fill="#fff" stroke="#c2132f" stroke-width="1.3"/>
<circle cx="134.4" cy="314.6" r="1.85" fill="#fff" stroke="#3aa9dd" stroke-width="1.3"/>
<circle cx="132.3" cy="317.2" r="1.85" fill="#fff" stroke="#3aa9dd" stroke-width="1.3"/>
<circle cx="136.6" cy="318" r="1.85" fill="#fff" stroke="#3aa9dd" stroke-width="1.3"/>
<circle cx="134" cy="320.7" r="1.85" fill="#fff" stroke="#3aa9dd" stroke-width="1.3"/>
<rect x="153.8" y="301.5" width="9.2" height="20.9" fill="#e9877e" opacity="0.9"/>
<rect x="165.9" y="301.5" width="9.2" height="20.9" fill="#acd6f1" opacity="0.9"/>
<line x1="158.4" y1="281.9" x2="158.4" y2="313.3" stroke="#6a4040" stroke-width="1.1"/>
<line x1="156.6" y1="281.9" x2="160.2" y2="281.9" stroke="#6a4040" stroke-width="1.1"/>
<line x1="170.5" y1="285.7" x2="170.5" y2="311.0" stroke="#2a9ad0" stroke-width="1.1"/>
<line x1="168.7" y1="285.7" x2="172.3" y2="285.7" stroke="#2a9ad0" stroke-width="1.1"/>
<circle cx="158.5" cy="262.7" r="1.85" fill="#fff" stroke="#c2132f" stroke-width="1.3"/>
<circle cx="158.5" cy="289.4" r="1.85" fill="#fff" stroke="#c2132f" stroke-width="1.3"/>
<circle cx="155.9" cy="301.5" r="1.85" fill="#fff" stroke="#c2132f" stroke-width="1.3"/>
<circle cx="158.5" cy="300.7" r="1.85" fill="#fff" stroke="#c2132f" stroke-width="1.3"/>
<circle cx="161.3" cy="302" r="1.85" fill="#fff" stroke="#c2132f" stroke-width="1.3"/>
<circle cx="158.5" cy="305.9" r="1.85" fill="#fff" stroke="#c2132f" stroke-width="1.3"/>
<circle cx="158.5" cy="310.9" r="1.85" fill="#fff" stroke="#c2132f" stroke-width="1.3"/>
<circle cx="158.5" cy="317.1" r="1.85" fill="#fff" stroke="#c2132f" stroke-width="1.3"/>
<circle cx="170.5" cy="266.1" r="1.85" fill="#fff" stroke="#3aa9dd" stroke-width="1.3"/>
<circle cx="169.2" cy="289.6" r="1.85" fill="#fff" stroke="#3aa9dd" stroke-width="1.3"/>
<circle cx="171.5" cy="293.9" r="1.85" fill="#fff" stroke="#3aa9dd" stroke-width="1.3"/>
<circle cx="168.2" cy="298.5" r="1.85" fill="#fff" stroke="#3aa9dd" stroke-width="1.3"/>
<circle cx="173.4" cy="298.2" r="1.85" fill="#fff" stroke="#3aa9dd" stroke-width="1.3"/>
<circle cx="170.2" cy="301.5" r="1.85" fill="#fff" stroke="#3aa9dd" stroke-width="1.3"/>
<circle cx="171.5" cy="304.2" r="1.85" fill="#fff" stroke="#3aa9dd" stroke-width="1.3"/>
<circle cx="169.7" cy="308.1" r="1.85" fill="#fff" stroke="#3aa9dd" stroke-width="1.3"/>
<circle cx="170.5" cy="318" r="1.85" fill="#fff" stroke="#3aa9dd" stroke-width="1.3"/>
<circle cx="170.5" cy="322" r="1.85" fill="#fff" stroke="#3aa9dd" stroke-width="1.3"/>
<rect x="190.1" y="279.4" width="9.2" height="43.0" fill="#e9877e" opacity="0.9"/>
<rect x="202.2" y="277.3" width="9.2" height="45.1" fill="#acd6f1" opacity="0.9"/>
<line x1="194.7" y1="260.3" x2="194.7" y2="290.9" stroke="#6a4040" stroke-width="1.1"/>
<line x1="192.9" y1="260.3" x2="196.5" y2="260.3" stroke="#6a4040" stroke-width="1.1"/>
<line x1="206.8" y1="254.3" x2="206.8" y2="291.1" stroke="#2a9ad0" stroke-width="1.1"/>
<line x1="205.0" y1="254.3" x2="208.6" y2="254.3" stroke="#2a9ad0" stroke-width="1.1"/>
<circle cx="194.6" cy="239.4" r="1.85" fill="#fff" stroke="#c2132f" stroke-width="1.3"/>
<circle cx="194.6" cy="267" r="1.85" fill="#fff" stroke="#c2132f" stroke-width="1.3"/>
<circle cx="193.5" cy="280.5" r="1.85" fill="#fff" stroke="#c2132f" stroke-width="1.3"/>
<circle cx="192.3" cy="284" r="1.85" fill="#fff" stroke="#c2132f" stroke-width="1.3"/>
<circle cx="195.2" cy="283.4" r="1.85" fill="#fff" stroke="#c2132f" stroke-width="1.3"/>
<circle cx="197.7" cy="284.4" r="1.85" fill="#fff" stroke="#c2132f" stroke-width="1.3"/>
<circle cx="194.6" cy="299.9" r="1.85" fill="#fff" stroke="#c2132f" stroke-width="1.3"/>
<circle cx="194.6" cy="304.5" r="1.85" fill="#fff" stroke="#c2132f" stroke-width="1.3"/>
<circle cx="206.9" cy="236.3" r="1.85" fill="#fff" stroke="#3aa9dd" stroke-width="1.3"/>
<circle cx="206.9" cy="246.9" r="1.85" fill="#fff" stroke="#3aa9dd" stroke-width="1.3"/>
<circle cx="205.2" cy="254.3" r="1.85" fill="#fff" stroke="#3aa9dd" stroke-width="1.3"/>
<circle cx="208.7" cy="254.3" r="1.85" fill="#fff" stroke="#3aa9dd" stroke-width="1.3"/>
<circle cx="209.7" cy="275.2" r="1.85" fill="#fff" stroke="#3aa9dd" stroke-width="1.3"/>
<circle cx="204.5" cy="277.6" r="1.85" fill="#fff" stroke="#3aa9dd" stroke-width="1.3"/>
<circle cx="207.3" cy="278.3" r="1.85" fill="#fff" stroke="#3aa9dd" stroke-width="1.3"/>
<circle cx="209.7" cy="287.2" r="1.85" fill="#fff" stroke="#3aa9dd" stroke-width="1.3"/>
<circle cx="204.5" cy="290.7" r="1.85" fill="#fff" stroke="#3aa9dd" stroke-width="1.3"/>
<circle cx="206.9" cy="293.8" r="1.85" fill="#fff" stroke="#3aa9dd" stroke-width="1.3"/>
<circle cx="209.7" cy="293.1" r="1.85" fill="#fff" stroke="#3aa9dd" stroke-width="1.3"/>
<circle cx="206.9" cy="306.5" r="1.85" fill="#fff" stroke="#3aa9dd" stroke-width="1.3"/>
<rect x="226.4" y="284.1" width="9.2" height="38.3" fill="#e9877e" opacity="0.9"/>
<rect x="238.5" y="289.6" width="9.2" height="32.8" fill="#acd6f1" opacity="0.9"/>
<line x1="231.0" y1="266.9" x2="231.0" y2="294.4" stroke="#6a4040" stroke-width="1.1"/>
<line x1="229.2" y1="266.9" x2="232.8" y2="266.9" stroke="#6a4040" stroke-width="1.1"/>
<line x1="243.1" y1="271" x2="243.1" y2="300.8" stroke="#2a9ad0" stroke-width="1.1"/>
<line x1="241.3" y1="271" x2="244.9" y2="271" stroke="#2a9ad0" stroke-width="1.1"/>
<circle cx="231.4" cy="262.1" r="1.85" fill="#fff" stroke="#c2132f" stroke-width="1.3"/>
<circle cx="229.9" cy="266.9" r="1.85" fill="#fff" stroke="#c2132f" stroke-width="1.3"/>
<circle cx="232.8" cy="266.9" r="1.85" fill="#fff" stroke="#c2132f" stroke-width="1.3"/>
<circle cx="231.4" cy="287.9" r="1.85" fill="#fff" stroke="#c2132f" stroke-width="1.3"/>
<circle cx="228.4" cy="294" r="1.85" fill="#fff" stroke="#c2132f" stroke-width="1.3"/>
<circle cx="231.4" cy="295.5" r="1.85" fill="#fff" stroke="#c2132f" stroke-width="1.3"/>
<circle cx="233.8" cy="298" r="1.85" fill="#fff" stroke="#c2132f" stroke-width="1.3"/>
<circle cx="228.4" cy="300.5" r="1.85" fill="#fff" stroke="#c2132f" stroke-width="1.3"/>
<circle cx="243.2" cy="269.8" r="1.85" fill="#fff" stroke="#3aa9dd" stroke-width="1.3"/>
<circle cx="245.2" cy="270.6" r="1.85" fill="#fff" stroke="#3aa9dd" stroke-width="1.3"/>
<circle cx="241.2" cy="271.3" r="1.85" fill="#fff" stroke="#3aa9dd" stroke-width="1.3"/>
<circle cx="245.9" cy="275.5" r="1.85" fill="#fff" stroke="#3aa9dd" stroke-width="1.3"/>
<circle cx="243.2" cy="278.2" r="1.85" fill="#fff" stroke="#3aa9dd" stroke-width="1.3"/>
<circle cx="245.9" cy="287.1" r="1.85" fill="#fff" stroke="#3aa9dd" stroke-width="1.3"/>
<circle cx="240.8" cy="289.6" r="1.85" fill="#fff" stroke="#3aa9dd" stroke-width="1.3"/>
<circle cx="243.7" cy="290.4" r="1.85" fill="#fff" stroke="#3aa9dd" stroke-width="1.3"/>
<circle cx="240.8" cy="295" r="1.85" fill="#fff" stroke="#3aa9dd" stroke-width="1.3"/>
<circle cx="243.2" cy="297.5" r="1.85" fill="#fff" stroke="#3aa9dd" stroke-width="1.3"/>
<circle cx="240.8" cy="304.9" r="1.85" fill="#fff" stroke="#3aa9dd" stroke-width="1.3"/>
<circle cx="245.9" cy="304.9" r="1.85" fill="#fff" stroke="#3aa9dd" stroke-width="1.3"/>
<rect x="262.7" y="302" width="9.2" height="20.4" fill="#e9877e" opacity="0.9"/>
<rect x="274.8" y="296" width="9.2" height="26.4" fill="#acd6f1" opacity="0.9"/>
<line x1="267.3" y1="290" x2="267.3" y2="309.2" stroke="#6a4040" stroke-width="1.1"/>
<line x1="265.5" y1="290" x2="269.1" y2="290" stroke="#6a4040" stroke-width="1.1"/>
<line x1="279.4" y1="286.8" x2="279.4" y2="301.5" stroke="#2a9ad0" stroke-width="1.1"/>
<line x1="277.6" y1="286.8" x2="281.2" y2="286.8" stroke="#2a9ad0" stroke-width="1.1"/>
<circle cx="264.9" cy="288.6" r="1.85" fill="#fff" stroke="#c2132f" stroke-width="1.3"/>
<circle cx="270.3" cy="290.1" r="1.85" fill="#fff" stroke="#c2132f" stroke-width="1.3"/>
<circle cx="267.6" cy="297.7" r="1.85" fill="#fff" stroke="#c2132f" stroke-width="1.3"/>
<circle cx="264.9" cy="303.1" r="1.85" fill="#fff" stroke="#c2132f" stroke-width="1.3"/>
<circle cx="270.3" cy="306.2" r="1.85" fill="#fff" stroke="#c2132f" stroke-width="1.3"/>
<circle cx="264.9" cy="307.9" r="1.85" fill="#fff" stroke="#c2132f" stroke-width="1.3"/>
<circle cx="264.9" cy="314.3" r="1.85" fill="#fff" stroke="#c2132f" stroke-width="1.3"/>
<circle cx="270.3" cy="314.3" r="1.85" fill="#fff" stroke="#c2132f" stroke-width="1.3"/>
<circle cx="279.5" cy="263.4" r="1.85" fill="#fff" stroke="#3aa9dd" stroke-width="1.3"/>
<circle cx="278.7" cy="295.3" r="1.85" fill="#fff" stroke="#3aa9dd" stroke-width="1.3"/>
<circle cx="282.2" cy="299" r="1.85" fill="#fff" stroke="#3aa9dd" stroke-width="1.3"/>
<circle cx="277.2" cy="300.7" r="1.85" fill="#fff" stroke="#3aa9dd" stroke-width="1.3"/>
<circle cx="278.7" cy="304.6" r="1.85" fill="#fff" stroke="#3aa9dd" stroke-width="1.3"/>
<circle cx="277.2" cy="309.2" r="1.85" fill="#fff" stroke="#3aa9dd" stroke-width="1.3"/>
<circle cx="282.2" cy="309.2" r="1.85" fill="#fff" stroke="#3aa9dd" stroke-width="1.3"/>
<circle cx="280.5" cy="312.3" r="1.85" fill="#fff" stroke="#3aa9dd" stroke-width="1.3"/>
<circle cx="278.7" cy="315.3" r="1.85" fill="#fff" stroke="#3aa9dd" stroke-width="1.3"/>
<rect x="299.0" y="316" width="9.2" height="6.4" fill="#e9877e" opacity="0.9"/>
<rect x="311.1" y="318" width="9.2" height="4.4" fill="#acd6f1" opacity="0.9"/>
<circle cx="303.8" cy="309.6" r="1.85" fill="#fff" stroke="#c2132f" stroke-width="1.3"/>
<circle cx="301.5" cy="316.5" r="1.85" fill="#fff" stroke="#c2132f" stroke-width="1.3"/>
<circle cx="305.4" cy="315.8" r="1.85" fill="#fff" stroke="#c2132f" stroke-width="1.3"/>
<circle cx="300.8" cy="318.8" r="1.85" fill="#fff" stroke="#c2132f" stroke-width="1.3"/>
<circle cx="304.6" cy="319.6" r="1.85" fill="#fff" stroke="#c2132f" stroke-width="1.3"/>
<circle cx="306.9" cy="318.1" r="1.85" fill="#fff" stroke="#c2132f" stroke-width="1.3"/>
<circle cx="303.1" cy="321.6" r="1.85" fill="#fff" stroke="#c2132f" stroke-width="1.3"/>
<circle cx="315.8" cy="309.2" r="1.85" fill="#fff" stroke="#3aa9dd" stroke-width="1.3"/>
<circle cx="316.9" cy="315.8" r="1.85" fill="#fff" stroke="#3aa9dd" stroke-width="1.3"/>
<circle cx="314.6" cy="318.1" r="1.85" fill="#fff" stroke="#3aa9dd" stroke-width="1.3"/>
<circle cx="318.5" cy="320.4" r="1.85" fill="#fff" stroke="#3aa9dd" stroke-width="1.3"/>
<circle cx="315.4" cy="321.2" r="1.85" fill="#fff" stroke="#3aa9dd" stroke-width="1.3"/>
<rect x="335.3" y="312" width="9.2" height="10.4" fill="#e9877e" opacity="0.9"/>
<rect x="347.4" y="313" width="9.2" height="9.4" fill="#acd6f1" opacity="0.9"/>
<circle cx="340" cy="301.2" r="1.85" fill="#fff" stroke="#c2132f" stroke-width="1.3"/>
<circle cx="339.2" cy="307.3" r="1.85" fill="#fff" stroke="#c2132f" stroke-width="1.3"/>
<circle cx="340" cy="312.7" r="1.85" fill="#fff" stroke="#c2132f" stroke-width="1.3"/>
<circle cx="337.7" cy="318.1" r="1.85" fill="#fff" stroke="#c2132f" stroke-width="1.3"/>
<circle cx="342.3" cy="317.3" r="1.85" fill="#fff" stroke="#c2132f" stroke-width="1.3"/>
<circle cx="340" cy="319.6" r="1.85" fill="#fff" stroke="#c2132f" stroke-width="1.3"/>
<circle cx="352.3" cy="304.2" r="1.85" fill="#fff" stroke="#3aa9dd" stroke-width="1.3"/>
<circle cx="351.5" cy="308.1" r="1.85" fill="#fff" stroke="#3aa9dd" stroke-width="1.3"/>
<circle cx="352.3" cy="313.5" r="1.85" fill="#fff" stroke="#3aa9dd" stroke-width="1.3"/>
<circle cx="350.8" cy="318.1" r="1.85" fill="#fff" stroke="#3aa9dd" stroke-width="1.3"/>
<circle cx="354.6" cy="318.1" r="1.85" fill="#fff" stroke="#3aa9dd" stroke-width="1.3"/>
<circle cx="350" cy="320.1" r="1.85" fill="#fff" stroke="#3aa9dd" stroke-width="1.3"/>
<circle cx="353.8" cy="320.1" r="1.85" fill="#fff" stroke="#3aa9dd" stroke-width="1.3"/>
<circle cx="374.5" cy="321.4" r="1.85" fill="#fff" stroke="#c2132f" stroke-width="1.3"/>
<circle cx="377" cy="321.6" r="1.85" fill="#fff" stroke="#c2132f" stroke-width="1.3"/>
<circle cx="379.5" cy="321.4" r="1.85" fill="#fff" stroke="#c2132f" stroke-width="1.3"/>
<circle cx="386.5" cy="321.4" r="1.85" fill="#fff" stroke="#3aa9dd" stroke-width="1.3"/>
<circle cx="389" cy="321.6" r="1.85" fill="#fff" stroke="#3aa9dd" stroke-width="1.3"/>
<circle cx="391.5" cy="321.4" r="1.85" fill="#fff" stroke="#3aa9dd" stroke-width="1.3"/>
<rect x="407.9" y="300.9" width="9.2" height="21.5" fill="#e9877e" opacity="0.9"/>
<rect x="420.0" y="300.4" width="9.2" height="22.0" fill="#acd6f1" opacity="0.9"/>
<line x1="412.5" y1="283.4" x2="412.5" y2="311.4" stroke="#6a4040" stroke-width="1.1"/>
<line x1="410.7" y1="283.4" x2="414.3" y2="283.4" stroke="#6a4040" stroke-width="1.1"/>
<line x1="424.6" y1="277.2" x2="424.6" y2="314.3" stroke="#2a9ad0" stroke-width="1.1"/>
<line x1="422.8" y1="277.2" x2="426.4" y2="277.2" stroke="#2a9ad0" stroke-width="1.1"/>
<circle cx="412.5" cy="275.7" r="1.85" fill="#fff" stroke="#c2132f" stroke-width="1.3"/>
<circle cx="412.5" cy="283.4" r="1.85" fill="#fff" stroke="#c2132f" stroke-width="1.3"/>
<circle cx="412.5" cy="291.3" r="1.85" fill="#fff" stroke="#c2132f" stroke-width="1.3"/>
<circle cx="410.3" cy="306" r="1.85" fill="#fff" stroke="#c2132f" stroke-width="1.3"/>
<circle cx="415.3" cy="306.6" r="1.85" fill="#fff" stroke="#c2132f" stroke-width="1.3"/>
<circle cx="410.3" cy="310.3" r="1.85" fill="#fff" stroke="#c2132f" stroke-width="1.3"/>
<circle cx="415.3" cy="316.4" r="1.85" fill="#fff" stroke="#c2132f" stroke-width="1.3"/>
<circle cx="410.3" cy="320.5" r="1.85" fill="#fff" stroke="#c2132f" stroke-width="1.3"/>
<circle cx="424.6" cy="255.4" r="1.85" fill="#fff" stroke="#3aa9dd" stroke-width="1.3"/>
<circle cx="422.7" cy="277.2" r="1.85" fill="#fff" stroke="#3aa9dd" stroke-width="1.3"/>
<circle cx="426.6" cy="276.6" r="1.85" fill="#fff" stroke="#3aa9dd" stroke-width="1.3"/>
<circle cx="424.9" cy="290" r="1.85" fill="#fff" stroke="#3aa9dd" stroke-width="1.3"/>
<circle cx="422.1" cy="299.5" r="1.85" fill="#fff" stroke="#3aa9dd" stroke-width="1.3"/>
<circle cx="424.9" cy="302.1" r="1.85" fill="#fff" stroke="#3aa9dd" stroke-width="1.3"/>
<circle cx="424.9" cy="307.4" r="1.85" fill="#fff" stroke="#3aa9dd" stroke-width="1.3"/>
<circle cx="427.8" cy="313.9" r="1.85" fill="#fff" stroke="#3aa9dd" stroke-width="1.3"/>
<circle cx="422.1" cy="317.3" r="1.85" fill="#fff" stroke="#3aa9dd" stroke-width="1.3"/>
<circle cx="427.8" cy="319" r="1.85" fill="#fff" stroke="#3aa9dd" stroke-width="1.3"/>
<circle cx="424.9" cy="321.8" r="1.85" fill="#fff" stroke="#3aa9dd" stroke-width="1.3"/>
<circle cx="458.8" cy="254.1" r="2.2" fill="#fff" stroke="#c2132f" stroke-width="1.35"/>
<circle cx="458.8" cy="264.9" r="2.2" fill="#fff" stroke="#3aa9dd" stroke-width="1.35"/>
<text x="464.9" y="256.8" font-size="7.3" fill="#333">Ab +ve</text>
<text x="464.9" y="267.6" font-size="7.3" fill="#333">Ab &#8722;ve</text>
<line x1="99" y1="370.7" x2="99" y2="450.1" stroke="#222" stroke-width="1.1"/>
<line x1="122.4" y1="370.7" x2="122.4" y2="449.6" stroke="#222" stroke-width="1"/>
<line x1="98.5" y1="449.6" x2="160" y2="449.6" stroke="#222" stroke-width="1.1"/>
<line x1="99.0" y1="449.6" x2="99.0" y2="452.6" stroke="#222" stroke-width="0.9"/>
<text x="99.0" y="461.3" font-size="6.6" fill="#333" text-anchor="middle">&#8722;2</text>
<line x1="110.7" y1="449.6" x2="110.7" y2="452.6" stroke="#222" stroke-width="0.9"/>
<text x="110.7" y="461.3" font-size="6.6" fill="#333" text-anchor="middle">&#8722;1</text>
<line x1="122.4" y1="449.6" x2="122.4" y2="452.6" stroke="#222" stroke-width="0.9"/>
<text x="122.4" y="461.3" font-size="6.6" fill="#333" text-anchor="middle">0</text>
<line x1="134.1" y1="449.6" x2="134.1" y2="452.6" stroke="#222" stroke-width="0.9"/>
<text x="134.1" y="461.3" font-size="6.6" fill="#333" text-anchor="middle">1</text>
<line x1="145.8" y1="449.6" x2="145.8" y2="452.6" stroke="#222" stroke-width="0.9"/>
<text x="145.8" y="461.3" font-size="6.6" fill="#333" text-anchor="middle">2</text>
<line x1="157.5" y1="449.6" x2="157.5" y2="452.6" stroke="#222" stroke-width="0.9"/>
<text x="157.5" y="461.3" font-size="6.6" fill="#333" text-anchor="middle">3</text>
<text x="129.3" y="472.5" font-size="8.8" font-weight="bold" fill="#333" text-anchor="middle" textLength="10.6" lengthAdjust="spacingAndGlyphs">NES</text>
<line x1="95.8" y1="379.8" x2="99" y2="379.8" stroke="#222" stroke-width="0.9"/>
<text x="91.6" y="382.1" font-size="6.6" fill="#333" text-anchor="end">Hypoxia</text>
<rect x="122.4" y="375.9" width="22.8" height="7.8" fill="#c8102e"/>
<line x1="95.8" y1="391.9" x2="99" y2="391.9" stroke="#222" stroke-width="0.9"/>
<text x="91.6" y="394.2" font-size="6.6" fill="#333" text-anchor="end">Interferon gamma response</text>
<rect x="122.4" y="388.0" width="22.0" height="7.8" fill="#c8102e"/>
<line x1="95.8" y1="404.0" x2="99" y2="404.0" stroke="#222" stroke-width="0.9"/>
<text x="91.6" y="406.3" font-size="6.6" fill="#333" text-anchor="end">Complement</text>
<rect x="122.4" y="400.1" width="20.3" height="7.8" fill="#c8102e"/>
<line x1="95.8" y1="415.8" x2="99" y2="415.8" stroke="#222" stroke-width="0.9"/>
<text x="91.6" y="418.1" font-size="6.6" fill="#333" text-anchor="end">Apoptosis</text>
<rect x="122.4" y="411.9" width="19.4" height="7.8" fill="#c8102e"/>
<line x1="95.8" y1="427.9" x2="99" y2="427.9" stroke="#222" stroke-width="0.9"/>
<text x="91.6" y="430.2" font-size="6.6" fill="#333" text-anchor="end">TNF-&#945; signaling via NF-&#954;B</text>
<rect x="122.4" y="424.0" width="17.8" height="7.8" fill="#c8102e"/>
<line x1="95.8" y1="440.1" x2="99" y2="440.1" stroke="#222" stroke-width="0.9"/>
<text x="91.6" y="442.4" font-size="6.6" fill="#333" text-anchor="end">MYC targets v1</text>
<rect x="102.8" y="436.2" width="19.6" height="7.8" fill="#2ba3dd"/>
<defs>
<linearGradient id="gsg" x1="0" x2="1" y1="0" y2="0">
<stop offset="0" stop-color="#e35a5a"/>
<stop offset="0.2" stop-color="#ec8a8e"/>
<stop offset="0.26" stop-color="#f3b8c6"/>
<stop offset="0.42" stop-color="#eed6e4"/>
<stop offset="0.55" stop-color="#d9d6ec"/>
<stop offset="0.75" stop-color="#c6c4e6"/>
<stop offset="0.8" stop-color="#8080c4"/>
<stop offset="0.92" stop-color="#5c58a8"/>
<stop offset="0.93" stop-color="#2e2a70"/>
<stop offset="0.955" stop-color="#2e2a70"/>
<stop offset="0.96" stop-color="#ffffff"/>
<stop offset="1" stop-color="#ffffff"/>
</linearGradient></defs>
<text x="232.1" y="373.5" font-size="9.2" fill="#222" text-anchor="middle" textLength="102.6" lengthAdjust="spacingAndGlyphs">HALLMARK_Complement</text>
<rect x="190.2" y="433.1" width="0.8" height="16.6" fill="#bbb"/>
<rect x="192.0" y="433.1" width="0.6" height="16.6" fill="#ccc"/>
<rect x="194.8" y="433.1" width="1.4" height="16.6" fill="#999"/>
<rect x="197.6" y="433.1" width="2.0" height="16.6" fill="#aaa"/>
<rect x="200.5" y="433.1" width="8.5" height="16.6" fill="#d6d6d6"/>
<rect x="201.0" y="433.1" width="0.6" height="16.6" fill="#aaa"/>
<rect x="203.0" y="433.1" width="0.6" height="16.6" fill="#aaa"/>
<rect x="205.0" y="433.1" width="1.0" height="16.6" fill="#999"/>
<rect x="207.5" y="433.1" width="1.0" height="16.6" fill="#999"/>
<rect x="210.2" y="433.1" width="1.3" height="16.6" fill="#777"/>
<rect x="212.3" y="433.1" width="0.7" height="16.6" fill="#aaa"/>
<rect x="214.6" y="433.1" width="2.0" height="16.6" fill="#aaa"/>
<rect x="217.4" y="433.1" width="3.0" height="16.6" fill="#c4c4c4"/>
<rect x="223.3" y="433.1" width="0.7" height="16.6" fill="#aaa"/>
<rect x="225.0" y="433.1" width="2.2" height="16.6" fill="#888"/>
<rect x="229.2" y="433.1" width="0.7" height="16.6" fill="#aaa"/>
<rect x="230.6" y="433.1" width="0.6" height="16.6" fill="#aaa"/>
<rect x="233.1" y="433.1" width="0.6" height="16.6" fill="#aaa"/>
<rect x="237.8" y="433.1" width="1.3" height="16.6" fill="#888"/>
<rect x="242.5" y="433.1" width="4.7" height="16.6" fill="#c8c8c8"/>
<rect x="248.4" y="433.1" width="1.7" height="16.6" fill="#aaa"/>
<rect x="251.8" y="433.1" width="3.0" height="16.6" fill="#bdbdbd"/>
<rect x="257.8" y="433.1" width="1.6" height="16.6" fill="#aaa"/>
<rect x="262.0" y="433.1" width="2.9" height="16.6" fill="#c2c2c2"/>
<rect x="267.1" y="433.1" width="0.6" height="16.6" fill="#bbb"/>
<rect x="189.2" y="449.7" width="84.8" height="4.2" fill="url(#gsg)"/>
<line x1="189.2" y1="433.1" x2="274.0" y2="433.1" stroke="#aaa" stroke-width="0.6"/>
<polyline points="189.3,398.2 190.5,392.0 192.6,387.2 194.0,388.5 196.0,385.0 198.0,386.5 200.4,386.0 204.0,386.8 209.2,388.3 214.0,390.5 218.0,392.7 222.0,396.5 226.9,401.5 231.0,405.6 235.8,410.4 240.0,413.8 244.6,417.0 249.0,420.2 253.5,423.6 257.0,425.8 260.1,428.0 261.5,428.4 263.4,427.0 266.0,430.3 268.9,432.9" fill="none" stroke="#45ad45" stroke-width="0.95" stroke-linejoin="round"/>
<rect x="189.2" y="382.7" width="84.8" height="71.6" fill="none" stroke="#111" stroke-width="1.2"/>
<text x="185.2" y="389.7" font-size="6.8" font-weight="normal" fill="#333" text-anchor="end">0.5</text>
<text x="185.2" y="399.3" font-size="6.8" font-weight="normal" fill="#333" text-anchor="end">0.4</text>
<text x="185.2" y="408.7" font-size="6.8" font-weight="normal" fill="#333" text-anchor="end">0.3</text>
<text x="185.2" y="418.1" font-size="6.8" font-weight="normal" fill="#333" text-anchor="end">0.2</text>
<text x="185.2" y="426.9" font-size="6.8" font-weight="normal" fill="#333" text-anchor="end">0.1</text>
<text x="185.2" y="435.7" font-size="6.8" font-weight="normal" fill="#333" text-anchor="end">0.0</text>
<text transform="translate(172.0,431.7) rotate(-90)" font-size="6.8" fill="#333" stroke="#333" stroke-width="0.25" textLength="42.4" lengthAdjust="spacingAndGlyphs">Enrichment score</text>
<text x="236.2" y="392.4" font-size="7.4" fill="#333">NES = 1.79</text>
<text x="236.2" y="401.2" font-size="7.4" fill="#333"><tspan font-style="italic">P</tspan> = .003</text>
<text x="191.2" y="462.0" font-size="7" fill="#c8303a">Ab+</text>
<text x="262.0" y="463.6" font-size="7" fill="#5ab0e0">Ab&#8722;</text>
<text x="346.7" y="367.6" font-size="9.2" fill="#222" text-anchor="middle" textLength="94.2" lengthAdjust="spacingAndGlyphs">HALLMARK_Interferon_</text>
<text x="346.7" y="377.9" font-size="9.2" fill="#222" text-anchor="middle" textLength="70" lengthAdjust="spacingAndGlyphs">gamma_response</text>
<rect x="305.8" y="433.1" width="2.5" height="16.6" fill="#cfcfcf"/>
<rect x="306.5" y="433.1" width="0.6" height="16.6" fill="#999"/>
<rect x="309.6" y="433.1" width="4.6" height="16.6" fill="#c4c4c4"/>
<rect x="310.5" y="433.1" width="0.6" height="16.6" fill="#888"/>
<rect x="312.5" y="433.1" width="0.6" height="16.6" fill="#999"/>
<rect x="314.7" y="433.1" width="0.6" height="16.6" fill="#aaa"/>
<rect x="316.8" y="433.1" width="2.1" height="16.6" fill="#d0d0d0"/>
<rect x="317.5" y="433.1" width="0.6" height="16.6" fill="#999"/>
<rect x="321.8" y="433.1" width="2.2" height="16.6" fill="#cccccc"/>
<rect x="322.5" y="433.1" width="0.6" height="16.6" fill="#999"/>
<rect x="324.8" y="433.1" width="1.3" height="16.6" fill="#d0d0d0"/>
<rect x="327.8" y="433.1" width="1.7" height="16.6" fill="#d0d0d0"/>
<rect x="328.5" y="433.1" width="0.6" height="16.6" fill="#999"/>
<rect x="330.8" y="433.1" width="0.6" height="16.6" fill="#bbb"/>
<rect x="335.0" y="433.1" width="4.6" height="16.6" fill="#d8d8d8"/>
<rect x="336.0" y="433.1" width="0.6" height="16.6" fill="#aaa"/>
<rect x="338.5" y="433.1" width="0.6" height="16.6" fill="#aaa"/>
<rect x="348.2" y="433.1" width="1.7" height="16.6" fill="#a8a8a8"/>
<rect x="352.0" y="433.1" width="0.6" height="16.6" fill="#aaa"/>
<rect x="357.5" y="433.1" width="0.6" height="16.6" fill="#bbb"/>
<rect x="361.3" y="433.1" width="0.6" height="16.6" fill="#bbb"/>
<rect x="364.3" y="433.1" width="4.2" height="16.6" fill="#c8c8c8"/>
<rect x="365.0" y="433.1" width="0.6" height="16.6" fill="#999"/>
<rect x="367.5" y="433.1" width="0.6" height="16.6" fill="#999"/>
<rect x="371.1" y="433.1" width="0.6" height="16.6" fill="#bbb"/>
<rect x="374.5" y="433.1" width="1.2" height="16.6" fill="#a8a8a8"/>
<rect x="384.6" y="433.1" width="0.6" height="16.6" fill="#ccc"/>
<rect x="303.8" y="449.7" width="84.8" height="4.2" fill="url(#gsg)"/>
<line x1="303.8" y1="433.1" x2="388.6" y2="433.1" stroke="#aaa" stroke-width="0.6"/>
<line x1="303.8" y1="429.8" x2="388.6" y2="429.8" stroke="#bbb" stroke-width="0.8"/>
<polyline points="304.4,421.4 306.2,422.5 307.7,401.5 310.0,396.0 312.1,390.5 313.3,386.0 315.3,387.2 317.3,385.7 319.3,387.3 321.3,385.5 323.7,382.7 325.8,385.3 329.8,388.2 333.1,390.5 337.6,394.9 340.8,396.2 346.4,403.7 350.9,407.1 357.5,413.7 361.8,418.7 365.2,421.4 368.6,420.3 373.0,424.8 375.6,420.8 378.8,425.2 383.6,429.2" fill="none" stroke="#45ad45" stroke-width="0.95" stroke-linejoin="round"/>
<rect x="303.8" y="382.7" width="84.8" height="71.6" fill="none" stroke="#111" stroke-width="1.2"/>
<text x="299.8" y="387.9" font-size="6.2" font-weight="bold" fill="#333" text-anchor="end">0.5</text>
<text x="299.8" y="397.4" font-size="6.2" font-weight="bold" fill="#333" text-anchor="end">0.4</text>
<text x="299.8" y="406.8" font-size="6.2" font-weight="bold" fill="#333" text-anchor="end">0.3</text>
<text x="299.8" y="416.2" font-size="6.2" font-weight="bold" fill="#333" text-anchor="end">0.2</text>
<text x="299.8" y="425.0" font-size="6.2" font-weight="bold" fill="#333" text-anchor="end">0.1</text>
<text x="299.8" y="434.1" font-size="6.2" font-weight="bold" fill="#333" text-anchor="end">0.0</text>
<text transform="translate(286.6,431.7) rotate(-90)" font-size="6.8" fill="#333" stroke="#333" stroke-width="0.25" textLength="42.4" lengthAdjust="spacingAndGlyphs">Enrichment score</text>
<text x="350.8" y="392.4" font-size="7.4" fill="#333">NES = 1.95</text>
<text x="350.8" y="401.2" font-size="7.4" fill="#333"><tspan font-style="italic">P</tspan> = .003</text>
<text x="305.8" y="462.0" font-size="7" fill="#c8303a">Ab+</text>
<text x="376.6" y="463.6" font-size="7" fill="#5ab0e0">Ab&#8722;</text>
<text x="461.9" y="367.2" font-size="9.2" fill="#222" text-anchor="middle" textLength="80" lengthAdjust="spacingAndGlyphs">HALLMARK_TNFA_</text>
<text x="461.9" y="377.9" font-size="9.2" fill="#222" text-anchor="middle" textLength="96.2" lengthAdjust="spacingAndGlyphs">SIGNALING_VIA_NFKB</text>
<rect x="421.2" y="433.1" width="2.1" height="16.6" fill="#c4c4c4"/>
<rect x="422.0" y="433.1" width="0.6" height="16.6" fill="#999"/>
<rect x="425.8" y="433.1" width="4.3" height="16.6" fill="#cccccc"/>
<rect x="426.5" y="433.1" width="0.6" height="16.6" fill="#999"/>
<rect x="428.5" y="433.1" width="0.6" height="16.6" fill="#999"/>
<rect x="433.1" y="433.1" width="2.0" height="16.6" fill="#c8c8c8"/>
<rect x="436.4" y="433.1" width="2.6" height="16.6" fill="#b0b0b0"/>
<rect x="437.5" y="433.1" width="0.6" height="16.6" fill="#888"/>
<rect x="440.3" y="433.1" width="2.1" height="16.6" fill="#d0d0d0"/>
<rect x="443.2" y="433.1" width="3.0" height="16.6" fill="#d4d4d4"/>
<rect x="444.0" y="433.1" width="0.6" height="16.6" fill="#aaa"/>
<rect x="450.8" y="433.1" width="4.7" height="16.6" fill="#d4d4d4"/>
<rect x="451.5" y="433.1" width="0.6" height="16.6" fill="#aaa"/>
<rect x="454.0" y="433.1" width="0.6" height="16.6" fill="#aaa"/>
<rect x="464.0" y="433.1" width="1.3" height="16.6" fill="#a8a8a8"/>
<rect x="467.0" y="433.1" width="1.7" height="16.6" fill="#c0c0c0"/>
<rect x="470.4" y="433.1" width="0.6" height="16.6" fill="#bbb"/>
<rect x="480.1" y="433.1" width="5.1" height="16.6" fill="#c4c4c4"/>
<rect x="481.0" y="433.1" width="0.6" height="16.6" fill="#999"/>
<rect x="483.5" y="433.1" width="0.6" height="16.6" fill="#999"/>
<rect x="486.9" y="433.1" width="0.6" height="16.6" fill="#bbb"/>
<rect x="489.8" y="433.1" width="2.2" height="16.6" fill="#aaa"/>
<rect x="493.7" y="433.1" width="0.6" height="16.6" fill="#bbb"/>
<rect x="419.0" y="449.7" width="84.8" height="4.2" fill="url(#gsg)"/>
<line x1="419.0" y1="433.1" x2="503.8" y2="433.1" stroke="#aaa" stroke-width="0.6"/>
<line x1="419.0" y1="429.8" x2="503.8" y2="429.8" stroke="#bbb" stroke-width="0.8"/>
<polyline points="419.6,421.4 421.4,422.5 422.9,401.5 425.2,396.0 427.3,390.5 428.5,386.0 430.5,387.2 432.5,385.7 434.5,387.3 436.5,385.5 438.9,382.7 441.0,385.3 445.0,388.2 448.3,390.5 452.8,394.9 456.0,396.2 461.6,403.7 466.1,407.1 472.7,413.7 477.0,418.7 480.4,421.4 483.8,420.3 488.2,424.8 490.8,420.8 494.0,425.2 498.8,429.2" fill="none" stroke="#45ad45" stroke-width="0.95" stroke-linejoin="round"/>
<rect x="419.0" y="382.7" width="84.8" height="71.6" fill="none" stroke="#111" stroke-width="1.2"/>
<text x="415.0" y="387.9" font-size="6.2" font-weight="bold" fill="#333" text-anchor="end">0.5</text>
<text x="415.0" y="397.4" font-size="6.2" font-weight="bold" fill="#333" text-anchor="end">0.4</text>
<text x="415.0" y="406.8" font-size="6.2" font-weight="bold" fill="#333" text-anchor="end">0.3</text>
<text x="415.0" y="416.2" font-size="6.2" font-weight="bold" fill="#333" text-anchor="end">0.2</text>
<text x="415.0" y="425.0" font-size="6.2" font-weight="bold" fill="#333" text-anchor="end">0.1</text>
<text x="415.0" y="434.1" font-size="6.2" font-weight="bold" fill="#333" text-anchor="end">0.0</text>
<text transform="translate(401.8,431.7) rotate(-90)" font-size="6.8" fill="#333" stroke="#333" stroke-width="0.25" textLength="42.4" lengthAdjust="spacingAndGlyphs">Enrichment score</text>
<text x="466.0" y="392.4" font-size="7.4" fill="#333">NES = 1.58</text>
<text x="466.0" y="401.2" font-size="7.4" fill="#333"><tspan font-style="italic">P</tspan> = .015</text>
<text x="421.0" y="463.5" font-size="7" fill="#c8303a">Ab+</text>
<text x="491.8" y="465.1" font-size="7" fill="#5ab0e0">Ab&#8722;</text>
<line x1="137.7" y1="509" x2="197.5" y2="519.3" stroke="#8c909a" stroke-width="0.85"/>
<line x1="137.7" y1="509" x2="127" y2="549.3" stroke="#8c909a" stroke-width="0.85"/>
<line x1="127" y1="549.3" x2="153.3" y2="633.8" stroke="#8c909a" stroke-width="0.85"/>
<line x1="197.5" y1="519.3" x2="233.5" y2="523.4" stroke="#8c909a" stroke-width="0.85"/>
<line x1="197.5" y1="519.3" x2="165.4" y2="552.4" stroke="#8c909a" stroke-width="0.85"/>
<line x1="234.5" y1="499.6" x2="233.5" y2="523.4" stroke="#8c909a" stroke-width="0.85"/>
<line x1="233.5" y1="523.4" x2="291" y2="525.3" stroke="#8c909a" stroke-width="0.85"/>
<line x1="233.5" y1="523.4" x2="247" y2="560.6" stroke="#8c909a" stroke-width="0.85"/>
<line x1="233.5" y1="523.4" x2="221.7" y2="625.3" stroke="#8c909a" stroke-width="0.85"/>
<line x1="165.4" y1="552.4" x2="247" y2="560.6" stroke="#8c909a" stroke-width="0.85"/>
<line x1="165.4" y1="552.4" x2="204.4" y2="573" stroke="#8c909a" stroke-width="0.85"/>
<line x1="165.4" y1="552.4" x2="141.7" y2="619.2" stroke="#8c909a" stroke-width="0.85"/>
<line x1="159" y1="581" x2="204.4" y2="573" stroke="#8c909a" stroke-width="0.85"/>
<line x1="159" y1="581" x2="141.7" y2="619.2" stroke="#8c909a" stroke-width="0.85"/>
<line x1="159" y1="581" x2="215" y2="594" stroke="#8c909a" stroke-width="0.85"/>
<line x1="204.4" y1="573" x2="192.7" y2="620.7" stroke="#8c909a" stroke-width="0.85"/>
<line x1="204.4" y1="573" x2="254.6" y2="586.4" stroke="#8c909a" stroke-width="0.85"/>
<line x1="247" y1="560.6" x2="283.2" y2="560.9" stroke="#8c909a" stroke-width="0.85"/>
<line x1="247" y1="560.6" x2="192.7" y2="620.7" stroke="#8c909a" stroke-width="0.85"/>
<line x1="247" y1="560.6" x2="221.7" y2="625.3" stroke="#8c909a" stroke-width="0.85"/>
<line x1="247" y1="560.6" x2="215" y2="594" stroke="#8c909a" stroke-width="0.85"/>
<line x1="247" y1="560.6" x2="245.3" y2="653.6" stroke="#8c909a" stroke-width="0.85"/>
<line x1="247" y1="560.6" x2="198.6" y2="638.8" stroke="#8c909a" stroke-width="0.85"/>
<line x1="247" y1="560.6" x2="213.3" y2="657" stroke="#8c909a" stroke-width="0.85"/>
<line x1="291" y1="525.3" x2="292.9" y2="582" stroke="#8c909a" stroke-width="0.85"/>
<line x1="291" y1="525.3" x2="318" y2="557.9" stroke="#8c909a" stroke-width="0.85"/>
<line x1="283.2" y1="560.9" x2="318" y2="557.9" stroke="#8c909a" stroke-width="0.85"/>
<line x1="283.2" y1="560.9" x2="292.9" y2="582" stroke="#8c909a" stroke-width="0.85"/>
<line x1="283.2" y1="560.9" x2="254.6" y2="586.4" stroke="#8c909a" stroke-width="0.85"/>
<line x1="318" y1="557.9" x2="292.9" y2="582" stroke="#8c909a" stroke-width="0.85"/>
<line x1="318" y1="557.9" x2="318.2" y2="596" stroke="#8c909a" stroke-width="0.85"/>
<line x1="292.9" y1="582" x2="345.6" y2="566.4" stroke="#8c909a" stroke-width="0.85"/>
<line x1="254.6" y1="586.4" x2="318" y2="557.9" stroke="#8c909a" stroke-width="0.85"/>
<line x1="254.6" y1="586.4" x2="318.2" y2="596" stroke="#8c909a" stroke-width="0.85"/>
<line x1="254.6" y1="586.4" x2="192.7" y2="620.7" stroke="#8c909a" stroke-width="0.85"/>
<line x1="254.6" y1="586.4" x2="241" y2="632.6" stroke="#8c909a" stroke-width="0.85"/>
<line x1="254.6" y1="586.4" x2="261.3" y2="610.9" stroke="#8c909a" stroke-width="0.85"/>
<line x1="254.6" y1="586.4" x2="221.7" y2="625.3" stroke="#8c909a" stroke-width="0.85"/>
<line x1="254.6" y1="586.4" x2="198.6" y2="638.8" stroke="#8c909a" stroke-width="0.85"/>
<line x1="349.7" y1="590.9" x2="355.7" y2="609.4" stroke="#8c909a" stroke-width="0.85"/>
<line x1="318.2" y1="596" x2="341.4" y2="630.2" stroke="#8c909a" stroke-width="0.85"/>
<line x1="291.4" y1="625.4" x2="341.4" y2="630.2" stroke="#8c909a" stroke-width="0.85"/>
<line x1="86.3" y1="609.3" x2="141.7" y2="619.2" stroke="#8c909a" stroke-width="0.85"/>
<line x1="141.7" y1="619.2" x2="192.7" y2="620.7" stroke="#8c909a" stroke-width="0.85"/>
<line x1="141.7" y1="619.2" x2="241" y2="632.6" stroke="#8c909a" stroke-width="0.85"/>
<line x1="141.7" y1="619.2" x2="213.3" y2="657" stroke="#8c909a" stroke-width="0.85"/>
<line x1="141.7" y1="619.2" x2="153.3" y2="633.8" stroke="#8c909a" stroke-width="0.85"/>
<line x1="141.7" y1="619.2" x2="291.4" y2="625.4" stroke="#8c909a" stroke-width="0.85"/>
<line x1="153.3" y1="633.8" x2="192.7" y2="620.7" stroke="#8c909a" stroke-width="0.85"/>
<line x1="153.3" y1="633.8" x2="198.6" y2="638.8" stroke="#8c909a" stroke-width="0.85"/>
<line x1="153.3" y1="633.8" x2="213.3" y2="657" stroke="#8c909a" stroke-width="0.85"/>
<line x1="153.3" y1="633.8" x2="180.2" y2="663.7" stroke="#8c909a" stroke-width="0.85"/>
<line x1="153.3" y1="633.8" x2="284.5" y2="638.1" stroke="#8c909a" stroke-width="0.85"/>
<line x1="145.8" y1="668" x2="181.5" y2="600.1" stroke="#8c909a" stroke-width="0.85"/>
<line x1="192.7" y1="620.7" x2="180.2" y2="663.7" stroke="#8c909a" stroke-width="0.85"/>
<line x1="198.6" y1="638.8" x2="180.2" y2="663.7" stroke="#8c909a" stroke-width="0.85"/>
<line x1="192.7" y1="620.7" x2="198.6" y2="638.8" stroke="#8c909a" stroke-width="0.85"/>
<line x1="192.7" y1="620.7" x2="291.4" y2="625.4" stroke="#8c909a" stroke-width="0.85"/>
<line x1="192.7" y1="620.7" x2="284.5" y2="638.1" stroke="#8c909a" stroke-width="0.85"/>
<line x1="215" y1="594" x2="221.7" y2="625.3" stroke="#8c909a" stroke-width="0.85"/>
<line x1="215" y1="594" x2="213.3" y2="657" stroke="#8c909a" stroke-width="0.85"/>
<line x1="215" y1="594" x2="291.4" y2="625.4" stroke="#8c909a" stroke-width="0.85"/>
<line x1="215" y1="594" x2="192.7" y2="620.7" stroke="#8c909a" stroke-width="0.85"/>
<line x1="215" y1="594" x2="325.2" y2="654" stroke="#8c909a" stroke-width="0.85"/>
<line x1="261.3" y1="610.9" x2="291.4" y2="625.4" stroke="#8c909a" stroke-width="0.85"/>
<line x1="261.3" y1="610.9" x2="221.7" y2="625.3" stroke="#8c909a" stroke-width="0.85"/>
<line x1="292.5" y1="606.2" x2="291.4" y2="625.4" stroke="#8c909a" stroke-width="0.85"/>
<line x1="291.4" y1="625.4" x2="325.2" y2="654" stroke="#8c909a" stroke-width="0.85"/>
<line x1="291.4" y1="625.4" x2="287" y2="660.8" stroke="#8c909a" stroke-width="0.85"/>
<line x1="291.4" y1="625.4" x2="308.7" y2="672" stroke="#8c909a" stroke-width="0.85"/>
<line x1="284.5" y1="638.1" x2="308.7" y2="672" stroke="#8c909a" stroke-width="0.85"/>
<line x1="284.5" y1="638.1" x2="287" y2="660.8" stroke="#8c909a" stroke-width="0.85"/>
<line x1="284.5" y1="638.1" x2="325.2" y2="654" stroke="#8c909a" stroke-width="0.85"/>
<line x1="287" y1="660.8" x2="250.9" y2="677.5" stroke="#8c909a" stroke-width="0.85"/>
<line x1="250.9" y1="677.5" x2="215.8" y2="694.8" stroke="#8c909a" stroke-width="0.85"/>
<line x1="250.9" y1="677.5" x2="284.5" y2="638.1" stroke="#8c909a" stroke-width="0.85"/>
<line x1="213.3" y1="657" x2="291.4" y2="625.4" stroke="#8c909a" stroke-width="0.85"/>
<line x1="213.3" y1="657" x2="245.3" y2="653.6" stroke="#8c909a" stroke-width="0.85"/>
<line x1="213.3" y1="657" x2="308.7" y2="672" stroke="#8c909a" stroke-width="0.85"/>
<line x1="213.3" y1="657" x2="180.2" y2="663.7" stroke="#8c909a" stroke-width="0.85"/>
<line x1="221.7" y1="625.3" x2="213.3" y2="657" stroke="#8c909a" stroke-width="0.85"/>
<line x1="221.7" y1="625.3" x2="291.4" y2="625.4" stroke="#8c909a" stroke-width="0.85"/>
<line x1="198.6" y1="638.8" x2="291.4" y2="625.4" stroke="#8c909a" stroke-width="0.85"/>
<line x1="198.6" y1="638.8" x2="325.2" y2="654" stroke="#8c909a" stroke-width="0.85"/>
<line x1="245.3" y1="653.6" x2="291.4" y2="625.4" stroke="#8c909a" stroke-width="0.85"/>
<line x1="245.3" y1="653.6" x2="287" y2="660.8" stroke="#8c909a" stroke-width="0.85"/>
<line x1="241" y1="632.6" x2="291.4" y2="625.4" stroke="#8c909a" stroke-width="0.85"/>
<line x1="241" y1="632.6" x2="284.5" y2="638.1" stroke="#8c909a" stroke-width="0.85"/>
<line x1="292.9" y1="582" x2="261.3" y2="610.9" stroke="#8c909a" stroke-width="0.85"/>
<line x1="221.7" y1="625.3" x2="241" y2="632.6" stroke="#8c909a" stroke-width="0.85"/>
<line x1="198.6" y1="638.8" x2="308.7" y2="672" stroke="#8c909a" stroke-width="0.85"/>
<line x1="141.7" y1="619.2" x2="325.2" y2="654" stroke="#8c909a" stroke-width="0.85"/>
<line x1="153.3" y1="633.8" x2="291.4" y2="625.4" stroke="#8c909a" stroke-width="0.85"/>
<line x1="166.6" y1="552.6" x2="143.2" y2="618.6" stroke="#8c909a" stroke-width="0.85"/>
<ellipse cx="137.7" cy="509" rx="14.4" ry="5.6" fill="#f29214"/>
<text x="137.7" y="511.1" font-size="7.1" fill="#3a2408" text-anchor="middle">USP15</text>
<ellipse cx="234.5" cy="499.6" rx="14.4" ry="5.6" fill="#f29214"/>
<text x="234.5" y="501.8" font-size="7.1" fill="#3a2408" text-anchor="middle">ANXA5</text>
<ellipse cx="127" cy="549.3" rx="14.4" ry="5.6" fill="#f29214"/>
<text x="127" y="551.4" font-size="7.1" fill="#3a2408" text-anchor="middle">S100A9</text>
<ellipse cx="165.4" cy="552.4" rx="14.4" ry="5.6" fill="#f29214"/>
<text x="165.4" y="554.5" font-size="7.1" fill="#3a2408" text-anchor="middle">GNB2</text>
<ellipse cx="204.4" cy="573" rx="14.4" ry="5.6" fill="#f29214"/>
<text x="204.4" y="575.1" font-size="7.1" fill="#3a2408" text-anchor="middle">GNG2</text>
<ellipse cx="159" cy="581" rx="14.4" ry="5.6" fill="#f29214"/>
<text x="159" y="583.1" font-size="7.1" fill="#3a2408" text-anchor="middle">GNAI2</text>
<ellipse cx="291" cy="525.3" rx="14.4" ry="5.6" fill="#f29214"/>
<text x="291" y="527.4" font-size="7.1" fill="#3a2408" text-anchor="middle">LAP3</text>
<ellipse cx="326.2" cy="540.1" rx="14.4" ry="5.6" fill="#f29214"/>
<text x="326.2" y="542.2" font-size="7.1" fill="#3a2408" text-anchor="middle">CTSH</text>
<ellipse cx="344.2" cy="551.4" rx="14.4" ry="5.6" fill="#f29214"/>
<text x="344.2" y="553.5" font-size="7.1" fill="#3a2408" text-anchor="middle">CTSC</text>
<ellipse cx="318" cy="557.9" rx="14.4" ry="5.6" fill="#f29214"/>
<text x="318" y="560.0" font-size="7.1" fill="#3a2408" text-anchor="middle">CTSS</text>
<ellipse cx="292.9" cy="582" rx="14.4" ry="5.6" fill="#f29214"/>
<text x="292.9" y="584.1" font-size="7.1" fill="#3a2408" text-anchor="middle">CTSB</text>
<ellipse cx="318.2" cy="596" rx="14.4" ry="5.6" fill="#f29214"/>
<text x="318.2" y="598.1" font-size="7.1" fill="#3a2408" text-anchor="middle">CTSD</text>
<ellipse cx="86.3" cy="609.3" rx="14.4" ry="5.6" fill="#f29214"/>
<text x="86.3" y="611.4" font-size="7.1" fill="#3a2408" text-anchor="middle">ERAP2</text>
<ellipse cx="141.7" cy="619.2" rx="14.4" ry="5.6" fill="#f29214"/>
<text x="141.7" y="621.4" font-size="7.1" fill="#3a2408" text-anchor="middle">HSPA5</text>
<ellipse cx="153.3" cy="633.8" rx="14.4" ry="5.6" fill="#f29214"/>
<text x="153.3" y="635.9" font-size="7.1" fill="#3a2408" text-anchor="middle">GRB2</text>
<ellipse cx="145.6" cy="647.9" rx="14.4" ry="5.6" fill="#f29214"/>
<text x="145.6" y="650.0" font-size="7.1" fill="#3a2408" text-anchor="middle">GZMK</text>
<ellipse cx="145.8" cy="668" rx="14.4" ry="5.6" fill="#f29214"/>
<text x="145.8" y="670.1" font-size="7.1" fill="#3a2408" text-anchor="middle">GZMB</text>
<ellipse cx="192.7" cy="620.7" rx="14.4" ry="5.6" fill="#f29214"/>
<text x="192.7" y="622.9" font-size="7.1" fill="#3a2408" text-anchor="middle">FYN</text>
<ellipse cx="221.7" cy="625.3" rx="14.4" ry="5.6" fill="#f29214"/>
<text x="221.7" y="627.4" font-size="7.1" fill="#3a2408" text-anchor="middle">IRF7</text>
<ellipse cx="198.6" cy="638.8" rx="14.4" ry="5.6" fill="#f29214"/>
<text x="198.6" y="640.9" font-size="7.1" fill="#3a2408" text-anchor="middle">LYN</text>
<ellipse cx="241" cy="632.6" rx="14.4" ry="5.6" fill="#f29214"/>
<text x="241" y="634.8" font-size="7.1" fill="#3a2408" text-anchor="middle">RHOG</text>
<ellipse cx="213.3" cy="657" rx="14.4" ry="5.6" fill="#f29214"/>
<text x="213.3" y="659.1" font-size="7.1" fill="#3a2408" text-anchor="middle">CEBPB</text>
<ellipse cx="180.2" cy="663.7" rx="14.8" ry="5.6" fill="#f29214"/>
<text x="180.2" y="665.9" font-size="7.1" fill="#3a2408" text-anchor="middle">FCER1G</text>
<ellipse cx="245.3" cy="653.6" rx="14.4" ry="5.6" fill="#f29214"/>
<text x="245.3" y="655.8" font-size="7.1" fill="#3a2408" text-anchor="middle">TIMP1</text>
<ellipse cx="250.9" cy="677.5" rx="14.4" ry="5.6" fill="#f29214"/>
<text x="250.9" y="679.6" font-size="7.1" fill="#3a2408" text-anchor="middle">ZFP36</text>
<ellipse cx="215.8" cy="694.8" rx="14.4" ry="5.6" fill="#f29214"/>
<text x="215.8" y="696.9" font-size="7.1" fill="#3a2408" text-anchor="middle">SAT1</text>
<ellipse cx="341.4" cy="630.2" rx="14.8" ry="5.6" fill="#f29214"/>
<text x="341.4" y="632.4" font-size="7.1" fill="#3a2408" text-anchor="middle">LGALS3</text>
<ellipse cx="197.5" cy="519.3" rx="14.4" ry="5.6" fill="#2ea43c"/>
<text x="197.5" y="521.4" font-size="7.1" fill="#10300f" text-anchor="middle">RNF213</text>
<ellipse cx="233.5" cy="523.4" rx="14.4" ry="5.6" fill="#2ea43c"/>
<text x="233.5" y="525.5" font-size="7.1" fill="#10300f" text-anchor="middle">ISG15</text>
<ellipse cx="221.2" cy="549.8" rx="14.4" ry="5.6" fill="#2ea43c"/>
<text x="221.2" y="551.9" font-size="7.1" fill="#10300f" text-anchor="middle">IFI27</text>
<ellipse cx="247" cy="560.6" rx="14.4" ry="5.6" fill="#2ea43c"/>
<text x="247" y="562.8" font-size="7.1" fill="#10300f" text-anchor="middle">IFITM3</text>
<ellipse cx="274.6" cy="545.2" rx="14.4" ry="5.6" fill="#2ea43c"/>
<text x="274.6" y="547.4" font-size="7.1" fill="#10300f" text-anchor="middle">LY6E</text>
<ellipse cx="283.2" cy="560.9" rx="14.4" ry="5.6" fill="#2ea43c"/>
<text x="283.2" y="563.0" font-size="7.1" fill="#10300f" text-anchor="middle">CD74</text>
<ellipse cx="254.6" cy="586.4" rx="16.4" ry="5.6" fill="#2ea43c"/>
<text x="254.6" y="588.5" font-size="7.1" fill="#10300f" text-anchor="middle">HLA-DRB1</text>
<ellipse cx="215" cy="594" rx="14.4" ry="5.6" fill="#2ea43c"/>
<text x="215" y="596.1" font-size="7.1" fill="#10300f" text-anchor="middle">TNFAIP3</text>
<ellipse cx="181.5" cy="600.1" rx="14.4" ry="5.6" fill="#2ea43c"/>
<text x="181.5" y="602.2" font-size="7.1" fill="#10300f" text-anchor="middle">CD69</text>
<ellipse cx="261.3" cy="610.9" rx="14.4" ry="5.6" fill="#2ea43c"/>
<text x="261.3" y="613.0" font-size="7.1" fill="#10300f" text-anchor="middle">MT2A</text>
<ellipse cx="292.5" cy="606.2" rx="14.4" ry="5.6" fill="#2ea43c"/>
<text x="292.5" y="608.4" font-size="7.1" fill="#10300f" text-anchor="middle">NFKBIA</text>
<ellipse cx="345.6" cy="566.4" rx="14.4" ry="5.6" fill="#2ea43c"/>
<text x="345.6" y="568.5" font-size="7.1" fill="#10300f" text-anchor="middle">CTS</text>
<ellipse cx="353.3" cy="578.4" rx="14.4" ry="5.6" fill="#2ea43c"/>
<text x="353.3" y="580.5" font-size="7.1" fill="#10300f" text-anchor="middle">CCL5</text>
<ellipse cx="349.7" cy="590.9" rx="14.4" ry="5.6" fill="#2ea43c"/>
<text x="349.7" y="593.0" font-size="7.1" fill="#10300f" text-anchor="middle">NAME2</text>
<ellipse cx="355.7" cy="609.4" rx="14.4" ry="5.6" fill="#2ea43c"/>
<text x="355.7" y="611.5" font-size="7.1" fill="#10300f" text-anchor="middle">NAME1</text>
<ellipse cx="291.4" cy="625.4" rx="14.4" ry="5.6" fill="#e0127e"/>
<text x="291.4" y="627.5" font-size="7.1" fill="#fff" text-anchor="middle">JUN</text>
<ellipse cx="284.5" cy="638.1" rx="14.4" ry="5.6" fill="#e0127e"/>
<text x="284.5" y="640.2" font-size="7.1" fill="#fff" text-anchor="middle">DUSP2</text>
<ellipse cx="325.2" cy="654" rx="14.8" ry="5.6" fill="#e0127e"/>
<text x="325.2" y="656.1" font-size="7.1" fill="#fff" text-anchor="middle">MAP2K3</text>
<ellipse cx="287" cy="660.8" rx="14.4" ry="5.6" fill="#e0127e"/>
<text x="287" y="662.9" font-size="7.1" fill="#fff" text-anchor="middle">JUNB</text>
<ellipse cx="308.7" cy="672" rx="14.4" ry="5.6" fill="#e0127e"/>
<text x="308.7" y="674.1" font-size="7.1" fill="#fff" text-anchor="middle">DUSP1</text>
<ellipse cx="339.4" cy="672" rx="14.4" ry="5.6" fill="#e0127e"/>
<text x="339.4" y="674.1" font-size="7.1" fill="#fff" text-anchor="middle">PNRC1</text>
<ellipse cx="316.3" cy="683.8" rx="14.8" ry="5.6" fill="#e0127e"/>
<text x="316.3" y="685.9" font-size="7.1" fill="#fff" text-anchor="middle">MAP3K8</text>
<text x="379.6" y="518.5" font-size="6.7" fill="#333">Complement</text>
<ellipse cx="436.4" cy="516" rx="10.8" ry="3.4" fill="#f29214"/>
<text x="379.6" y="530.6" font-size="6.7" fill="#333">IFN-&#947;</text>
<ellipse cx="436.4" cy="528.1" rx="10.8" ry="3.4" fill="#2ea43c"/>
<text x="379.6" y="542.8" font-size="6.7" fill="#333">TNF-&#945;</text>
<ellipse cx="436.4" cy="540.3" rx="10.8" ry="3.4" fill="#e0127e"/>
<rect x="0.5" y="0.5" width="519" height="707" fill="none" stroke="#3c3c3c" stroke-width="1"/>
</svg></body></html>
